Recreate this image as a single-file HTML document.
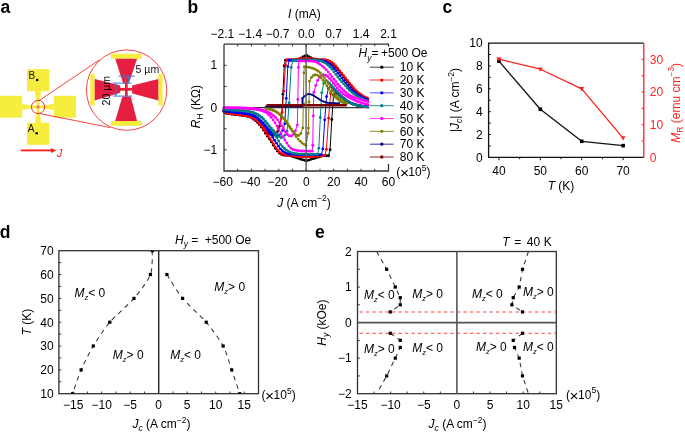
<!DOCTYPE html>
<html><head><meta charset="utf-8"><style>
html,body{margin:0;padding:0;background:#fff;overflow:hidden;}
svg{display:block;will-change:transform;}
text{font-family:"Liberation Sans",sans-serif;}
</style></head><body>
<svg width="685" height="432" viewBox="0 0 685 432">
<defs><clipPath id="clipd"><rect x="58.9" y="250.7" width="199.6" height="143.0"/></clipPath><clipPath id="clipe"><rect x="357.5" y="251.5" width="198.79999999999995" height="142.2"/></clipPath><clipPath id="clipb"><rect x="222.0" y="44.2" width="166.5" height="126.8"/></clipPath></defs>
<rect width="685" height="432" fill="#fff"/>
<text x="0.5" y="12.8" font-size="17.5" font-weight="bold" fill="#000">a</text>
<rect x="27" y="69.2" width="22.2" height="22" fill="#f7ed3e"/>
<rect x="27" y="122.8" width="22.2" height="22" fill="#f7ed3e"/>
<rect x="0" y="95.8" width="22.2" height="21.8" fill="#f7ed3e"/>
<rect x="53.9" y="95.8" width="22.1" height="21.8" fill="#f7ed3e"/>
<polygon points="34.7,91.2 41.3,91.2 39.6,101.5 36.6,101.5" fill="#f7ed3e"/>
<polygon points="35.1,122.8 41.3,122.8 39.6,112.5 36.6,112.5" fill="#f7ed3e"/>
<polygon points="22.2,103.8 22.2,110.1 32,108.5 32,105.4" fill="#f7ed3e"/>
<polygon points="53.9,103.8 53.9,110.1 44,108.5 44,105.4" fill="#f7ed3e"/>
<rect x="36.6" y="101" width="3" height="12" fill="#f7ed3e"/>
<rect x="31.8" y="105.4" width="12.4" height="3.1" fill="#f7ed3e"/>
<path d="M36.3 107 H39.8 M38.05 105.2 V108.8" stroke="#e070a0" stroke-width="1.4"/>
<circle cx="38.05" cy="107" r="6.6" fill="none" stroke="#f03030" stroke-width="1"/>
<line x1="39.2" y1="100.5" x2="99.6" y2="59.8" stroke="#f03030" stroke-width="0.9" />
<line x1="39.6" y1="113.5" x2="110.2" y2="127.6" stroke="#f03030" stroke-width="0.9" />
<circle cx="126.6" cy="90.1" r="40.2" fill="#fff" stroke="#f03030" stroke-width="0.9"/>
<rect x="110.9" y="53.8" width="31.1" height="4.9" fill="#f7ed3e"/>
<rect x="110.9" y="121" width="31.1" height="4.8" fill="#f7ed3e"/>
<rect x="90.4" y="73.9" width="4.3" height="31.5" fill="#f7ed3e"/>
<rect x="158.3" y="73.9" width="4.3" height="31.5" fill="#f7ed3e"/>
<polygon points="115.2,58.7 137.1,58.7 128.8,83.4 123.2,83.4" fill="#e61e41"/>
<polygon points="115.2,121 137.1,121 130.8,96.4 122.4,96.4" fill="#e61e41"/>
<polygon points="94.7,79.1 94.7,100.5 120.3,92.8 120.3,85.6" fill="#e61e41"/>
<polygon points="158.3,79.1 158.3,100.5 132.2,93.4 132.2,85.6" fill="#e61e41"/>
<rect x="125" y="83" width="2.7" height="13.6" fill="#e61e41"/>
<rect x="119.6" y="87.9" width="13.2" height="2.8" fill="#e61e41"/>
<g stroke="#3f78d6" stroke-width="1.0" fill="none">
<path d="M118.5 76.2 H134.7 M112.7 83.1 H131.6 M113.3 96.1 H132.3 M115.9 83.6 V95.6 M125.5 76.2 V83 M128.3 76.2 V83"/>
</g>
<path d="M115.9 83.3 l-1.3 2.6 h2.6 z M115.9 95.9 l-1.3 -2.6 h2.6 z M125.5 76.4 l-1.1 2.4 h2.2z M128.3 76.4 l-1.1 2.4 h2.2z" fill="#3f78d6"/>
<text x="135.6" y="72.7" font-size="10.5" text-anchor="start" fill="#111" >5 µm</text>
<text transform="translate(109.8,90.7) rotate(-90)" font-size="10.5" text-anchor="middle" fill="#000">20 µm</text>
<text x="28.6" y="78.8" font-size="10" text-anchor="start" fill="#111" >B</text>
<circle cx="37.2" cy="80" r="1.3" fill="#000"/>
<text x="27.8" y="131.7" font-size="10" text-anchor="start" fill="#111" >A</text>
<circle cx="36.7" cy="133.2" r="1.3" fill="#000"/>
<line x1="20.7" y1="150.4" x2="51.5" y2="150.4" stroke="#ff1a1a" stroke-width="1.8" />
<polygon points="51,147.9 56.3,150.4 51,152.9" fill="#ff1a1a"/>
<text x="56.8" y="156.9" font-size="11" text-anchor="start" fill="#ff1a1a" font-style="italic">J</text>
<text x="187.6" y="12.7" font-size="17.5" font-weight="bold" fill="#000">b</text>
<line x1="224" y1="107.6" x2="369" y2="107.6" stroke="#333" stroke-width="1.2" />
<g clip-path="url(#clipb)">
<polyline points="369.05,99.41 367.1,98.55 365.16,97.62 363.21,96.58 361.27,95.45 359.32,94.16 357.38,92.66 355.43,90.94 353.49,89 351.54,86.75 349.6,84.36 347.65,81.97 345.71,79.51 343.76,77.08 341.82,74.7 339.87,72.34 337.93,69.92 335.98,67.44 334.04,65.36 332.09,63.63 330.15,62.23 328.2,61.33 326.26,60.67 324.31,60.3 322.37,60.16 320.42,60.07 318.48,60.05 316.53,60.05 314.59,59.74 312.64,58.68 310.7,57.62 308.75,56.56 306.81,55.49 304.86,55.95 302.92,57.01 300.97,58.07 299.03,59.13 297.08,60.05 295.14,60.05 293.19,60.05 291.25,60.05 289.3,60.05 287.36,60.05 285.41,60.05 284.26,65.73 282.92,94.16 281.57,116.9 279.59,126.18 277.6,131.59 275.62,134.48 273.63,135.28 271.65,134.85 269.66,133.96 267.68,132.58 265.69,130.71 263.71,128.36 261.72,125.96 259.74,123.85 257.75,121.98 255.77,120.27 253.78,118.86 251.79,117.62 249.81,116.69 247.82,116.18 245.84,115.79 243.85,115.47 241.87,115.2 239.88,114.94 237.9,114.67 235.91,114.39 233.93,114.18 231.94,114 229.96,113.79 227.97,113.49 225.99,113.03 224,111.51" fill="none" stroke="#000000" stroke-width="1.0" stroke-linejoin="round"/>
<circle cx="369.05" cy="99.41" r="1.42" fill="#000000"/>
<circle cx="367.1" cy="98.55" r="1.42" fill="#000000"/>
<circle cx="365.16" cy="97.62" r="1.42" fill="#000000"/>
<circle cx="363.21" cy="96.58" r="1.42" fill="#000000"/>
<circle cx="361.27" cy="95.45" r="1.42" fill="#000000"/>
<circle cx="359.32" cy="94.16" r="1.42" fill="#000000"/>
<circle cx="357.38" cy="92.66" r="1.42" fill="#000000"/>
<circle cx="355.43" cy="90.94" r="1.42" fill="#000000"/>
<circle cx="353.49" cy="89" r="1.42" fill="#000000"/>
<circle cx="351.54" cy="86.75" r="1.42" fill="#000000"/>
<circle cx="349.6" cy="84.36" r="1.42" fill="#000000"/>
<circle cx="347.65" cy="81.97" r="1.42" fill="#000000"/>
<circle cx="345.71" cy="79.51" r="1.42" fill="#000000"/>
<circle cx="343.76" cy="77.08" r="1.42" fill="#000000"/>
<circle cx="341.82" cy="74.7" r="1.42" fill="#000000"/>
<circle cx="339.87" cy="72.34" r="1.42" fill="#000000"/>
<circle cx="337.93" cy="69.92" r="1.42" fill="#000000"/>
<circle cx="335.98" cy="67.44" r="1.42" fill="#000000"/>
<circle cx="334.04" cy="65.36" r="1.42" fill="#000000"/>
<circle cx="332.09" cy="63.63" r="1.42" fill="#000000"/>
<circle cx="330.15" cy="62.23" r="1.42" fill="#000000"/>
<circle cx="328.2" cy="61.33" r="1.42" fill="#000000"/>
<circle cx="326.26" cy="60.67" r="1.42" fill="#000000"/>
<circle cx="324.31" cy="60.3" r="1.42" fill="#000000"/>
<circle cx="322.37" cy="60.16" r="1.42" fill="#000000"/>
<circle cx="320.42" cy="60.07" r="1.42" fill="#000000"/>
<circle cx="318.48" cy="60.05" r="1.42" fill="#000000"/>
<circle cx="316.53" cy="60.05" r="1.42" fill="#000000"/>
<circle cx="314.59" cy="59.74" r="1.42" fill="#000000"/>
<circle cx="312.64" cy="58.68" r="1.42" fill="#000000"/>
<circle cx="310.7" cy="57.62" r="1.42" fill="#000000"/>
<circle cx="308.75" cy="56.56" r="1.42" fill="#000000"/>
<circle cx="306.81" cy="55.49" r="1.42" fill="#000000"/>
<circle cx="304.86" cy="55.95" r="1.42" fill="#000000"/>
<circle cx="302.92" cy="57.01" r="1.42" fill="#000000"/>
<circle cx="300.97" cy="58.07" r="1.42" fill="#000000"/>
<circle cx="299.03" cy="59.13" r="1.42" fill="#000000"/>
<circle cx="297.08" cy="60.05" r="1.42" fill="#000000"/>
<circle cx="295.14" cy="60.05" r="1.42" fill="#000000"/>
<circle cx="293.19" cy="60.05" r="1.42" fill="#000000"/>
<circle cx="291.25" cy="60.05" r="1.42" fill="#000000"/>
<circle cx="289.3" cy="60.05" r="1.42" fill="#000000"/>
<circle cx="287.36" cy="60.05" r="1.42" fill="#000000"/>
<circle cx="285.41" cy="60.05" r="1.42" fill="#000000"/>
<circle cx="284.26" cy="65.73" r="1.42" fill="#000000"/>
<circle cx="282.92" cy="94.16" r="1.42" fill="#000000"/>
<circle cx="281.57" cy="116.9" r="1.42" fill="#000000"/>
<circle cx="279.59" cy="126.18" r="1.42" fill="#000000"/>
<circle cx="277.6" cy="131.59" r="1.42" fill="#000000"/>
<circle cx="275.62" cy="134.48" r="1.42" fill="#000000"/>
<circle cx="273.63" cy="135.28" r="1.42" fill="#000000"/>
<circle cx="271.65" cy="134.85" r="1.42" fill="#000000"/>
<circle cx="269.66" cy="133.96" r="1.42" fill="#000000"/>
<circle cx="267.68" cy="132.58" r="1.42" fill="#000000"/>
<circle cx="265.69" cy="130.71" r="1.42" fill="#000000"/>
<circle cx="263.71" cy="128.36" r="1.42" fill="#000000"/>
<circle cx="261.72" cy="125.96" r="1.42" fill="#000000"/>
<circle cx="259.74" cy="123.85" r="1.42" fill="#000000"/>
<circle cx="257.75" cy="121.98" r="1.42" fill="#000000"/>
<circle cx="255.77" cy="120.27" r="1.42" fill="#000000"/>
<circle cx="253.78" cy="118.86" r="1.42" fill="#000000"/>
<circle cx="251.79" cy="117.62" r="1.42" fill="#000000"/>
<circle cx="249.81" cy="116.69" r="1.42" fill="#000000"/>
<circle cx="247.82" cy="116.18" r="1.42" fill="#000000"/>
<circle cx="245.84" cy="115.79" r="1.42" fill="#000000"/>
<circle cx="243.85" cy="115.47" r="1.42" fill="#000000"/>
<circle cx="241.87" cy="115.2" r="1.42" fill="#000000"/>
<circle cx="239.88" cy="114.94" r="1.42" fill="#000000"/>
<circle cx="237.9" cy="114.67" r="1.42" fill="#000000"/>
<circle cx="235.91" cy="114.39" r="1.42" fill="#000000"/>
<circle cx="233.93" cy="114.18" r="1.42" fill="#000000"/>
<circle cx="231.94" cy="114" r="1.42" fill="#000000"/>
<circle cx="229.96" cy="113.79" r="1.42" fill="#000000"/>
<circle cx="227.97" cy="113.49" r="1.42" fill="#000000"/>
<circle cx="225.99" cy="113.03" r="1.42" fill="#000000"/>
<circle cx="224" cy="111.51" r="1.42" fill="#000000"/>
<polyline points="224,111.51 225.97,113.04 227.95,113.49 229.92,113.8 231.89,114.01 233.87,114.19 235.84,114.4 237.81,114.69 239.79,114.97 241.76,115.25 243.73,115.54 245.71,115.88 247.68,116.31 249.66,116.85 251.63,117.82 253.6,119.15 255.58,120.67 257.55,122.56 259.52,124.69 261.5,127.15 263.47,130.06 265.44,133.18 267.42,136.14 269.39,139 271.36,141.92 273.34,145.14 275.31,148.32 277.28,150.91 279.26,153.1 281.23,154.27 283.2,154.99 285.18,155.31 287.15,155.41 289.12,155.49 291.1,155.96 293.07,156.63 295.05,157.29 297.02,157.94 298.99,158.58 300.97,159.21 302.94,159.83 304.91,160.44 306.89,160.66 308.86,160.05 310.83,159.44 312.81,158.83 314.78,158.23 316.75,157.62 318.73,157.01 320.7,156.4 322.67,155.79 324.65,155.78 326.62,155.78 328.59,155.78 330.08,149.74 331.8,119.52 333.53,95.34 335.49,93.08 337.46,93.56 339.42,94.99 341.38,96.65 343.35,98.29 345.31,99.77 347.27,101.08 349.24,102.21 351.2,103.17 353.16,103.97 355.13,104.64 357.09,105.19 359.05,105.65 361.01,106.02 362.98,106.32 364.94,106.57 366.9,106.77 368.87,106.93" fill="none" stroke="#000000" stroke-width="1.0" stroke-linejoin="round"/>
<circle cx="224" cy="111.51" r="1.42" fill="#000000"/>
<circle cx="225.97" cy="113.04" r="1.42" fill="#000000"/>
<circle cx="227.95" cy="113.49" r="1.42" fill="#000000"/>
<circle cx="229.92" cy="113.8" r="1.42" fill="#000000"/>
<circle cx="231.89" cy="114.01" r="1.42" fill="#000000"/>
<circle cx="233.87" cy="114.19" r="1.42" fill="#000000"/>
<circle cx="235.84" cy="114.4" r="1.42" fill="#000000"/>
<circle cx="237.81" cy="114.69" r="1.42" fill="#000000"/>
<circle cx="239.79" cy="114.97" r="1.42" fill="#000000"/>
<circle cx="241.76" cy="115.25" r="1.42" fill="#000000"/>
<circle cx="243.73" cy="115.54" r="1.42" fill="#000000"/>
<circle cx="245.71" cy="115.88" r="1.42" fill="#000000"/>
<circle cx="247.68" cy="116.31" r="1.42" fill="#000000"/>
<circle cx="249.66" cy="116.85" r="1.42" fill="#000000"/>
<circle cx="251.63" cy="117.82" r="1.42" fill="#000000"/>
<circle cx="253.6" cy="119.15" r="1.42" fill="#000000"/>
<circle cx="255.58" cy="120.67" r="1.42" fill="#000000"/>
<circle cx="257.55" cy="122.56" r="1.42" fill="#000000"/>
<circle cx="259.52" cy="124.69" r="1.42" fill="#000000"/>
<circle cx="261.5" cy="127.15" r="1.42" fill="#000000"/>
<circle cx="263.47" cy="130.06" r="1.42" fill="#000000"/>
<circle cx="265.44" cy="133.18" r="1.42" fill="#000000"/>
<circle cx="267.42" cy="136.14" r="1.42" fill="#000000"/>
<circle cx="269.39" cy="139" r="1.42" fill="#000000"/>
<circle cx="271.36" cy="141.92" r="1.42" fill="#000000"/>
<circle cx="273.34" cy="145.14" r="1.42" fill="#000000"/>
<circle cx="275.31" cy="148.32" r="1.42" fill="#000000"/>
<circle cx="277.28" cy="150.91" r="1.42" fill="#000000"/>
<circle cx="279.26" cy="153.1" r="1.42" fill="#000000"/>
<circle cx="281.23" cy="154.27" r="1.42" fill="#000000"/>
<circle cx="283.2" cy="154.99" r="1.42" fill="#000000"/>
<circle cx="285.18" cy="155.31" r="1.42" fill="#000000"/>
<circle cx="287.15" cy="155.41" r="1.42" fill="#000000"/>
<circle cx="289.12" cy="155.49" r="1.42" fill="#000000"/>
<circle cx="291.1" cy="155.96" r="1.42" fill="#000000"/>
<circle cx="293.07" cy="156.63" r="1.42" fill="#000000"/>
<circle cx="295.05" cy="157.29" r="1.42" fill="#000000"/>
<circle cx="297.02" cy="157.94" r="1.42" fill="#000000"/>
<circle cx="298.99" cy="158.58" r="1.42" fill="#000000"/>
<circle cx="300.97" cy="159.21" r="1.42" fill="#000000"/>
<circle cx="302.94" cy="159.83" r="1.42" fill="#000000"/>
<circle cx="304.91" cy="160.44" r="1.42" fill="#000000"/>
<circle cx="306.89" cy="160.66" r="1.42" fill="#000000"/>
<circle cx="308.86" cy="160.05" r="1.42" fill="#000000"/>
<circle cx="310.83" cy="159.44" r="1.42" fill="#000000"/>
<circle cx="312.81" cy="158.83" r="1.42" fill="#000000"/>
<circle cx="314.78" cy="158.23" r="1.42" fill="#000000"/>
<circle cx="316.75" cy="157.62" r="1.42" fill="#000000"/>
<circle cx="318.73" cy="157.01" r="1.42" fill="#000000"/>
<circle cx="320.7" cy="156.4" r="1.42" fill="#000000"/>
<circle cx="322.67" cy="155.79" r="1.42" fill="#000000"/>
<circle cx="324.65" cy="155.78" r="1.42" fill="#000000"/>
<circle cx="326.62" cy="155.78" r="1.42" fill="#000000"/>
<circle cx="328.59" cy="155.78" r="1.42" fill="#000000"/>
<circle cx="330.08" cy="149.74" r="1.42" fill="#000000"/>
<circle cx="331.8" cy="119.52" r="1.42" fill="#000000"/>
<circle cx="333.53" cy="95.34" r="1.42" fill="#000000"/>
<circle cx="335.49" cy="93.08" r="1.42" fill="#000000"/>
<circle cx="337.46" cy="93.56" r="1.42" fill="#000000"/>
<circle cx="339.42" cy="94.99" r="1.42" fill="#000000"/>
<circle cx="341.38" cy="96.65" r="1.42" fill="#000000"/>
<circle cx="343.35" cy="98.29" r="1.42" fill="#000000"/>
<circle cx="345.31" cy="99.77" r="1.42" fill="#000000"/>
<circle cx="347.27" cy="101.08" r="1.42" fill="#000000"/>
<circle cx="349.24" cy="102.21" r="1.42" fill="#000000"/>
<circle cx="351.2" cy="103.17" r="1.42" fill="#000000"/>
<circle cx="353.16" cy="103.97" r="1.42" fill="#000000"/>
<circle cx="355.13" cy="104.64" r="1.42" fill="#000000"/>
<circle cx="357.09" cy="105.19" r="1.42" fill="#000000"/>
<circle cx="359.05" cy="105.65" r="1.42" fill="#000000"/>
<circle cx="361.01" cy="106.02" r="1.42" fill="#000000"/>
<circle cx="362.98" cy="106.32" r="1.42" fill="#000000"/>
<circle cx="364.94" cy="106.57" r="1.42" fill="#000000"/>
<circle cx="366.9" cy="106.77" r="1.42" fill="#000000"/>
<circle cx="368.87" cy="106.93" r="1.42" fill="#000000"/>
<polyline points="368.97,98.93 367.01,98.04 365.06,97.05 363.11,95.95 361.15,94.73 359.2,93.34 357.25,91.7 355.29,89.85 353.34,87.73 351.38,85.35 349.43,82.94 347.48,80.47 345.52,77.98 343.57,75.55 341.62,73.15 339.66,70.76 337.71,68.23 335.76,65.87 333.8,64.01 331.85,62.4 329.9,61.28 327.94,60.52 325.99,60 324.04,59.79 322.08,59.68 320.13,59.63 318.18,59.44 316.22,59.22 314.27,59.01 312.32,58.8 310.36,58.59 308.41,58.38 306.46,58.17 304.5,58.34 302.55,58.55 300.6,58.76 298.64,58.97 296.69,59.18 294.74,59.39 292.78,59.6 290.83,59.63 288.87,59.63 286.92,59.63 285.48,64.89 283.8,91.2 282.12,112.25 280.19,122.44 278.25,128.62 276.31,132.16 274.37,133.52 272.44,133.54 270.5,133 268.56,131.93 266.62,130.34 264.69,128.22 262.75,125.96 260.81,123.93 258.87,122.12 256.94,120.47 255,119.04 253.06,117.82 251.12,116.81 249.19,116.24 247.25,115.83 245.31,115.51 243.37,115.23 241.44,114.98 239.5,114.73 237.56,114.45 235.62,114.22 233.69,114.04 231.75,113.86 229.81,113.62 227.87,113.28 225.94,112.73 224,110.7" fill="none" stroke="#ff0000" stroke-width="1.0" stroke-linejoin="round"/>
<circle cx="368.97" cy="98.93" r="1.42" fill="#ff0000"/>
<circle cx="367.01" cy="98.04" r="1.42" fill="#ff0000"/>
<circle cx="365.06" cy="97.05" r="1.42" fill="#ff0000"/>
<circle cx="363.11" cy="95.95" r="1.42" fill="#ff0000"/>
<circle cx="361.15" cy="94.73" r="1.42" fill="#ff0000"/>
<circle cx="359.2" cy="93.34" r="1.42" fill="#ff0000"/>
<circle cx="357.25" cy="91.7" r="1.42" fill="#ff0000"/>
<circle cx="355.29" cy="89.85" r="1.42" fill="#ff0000"/>
<circle cx="353.34" cy="87.73" r="1.42" fill="#ff0000"/>
<circle cx="351.38" cy="85.35" r="1.42" fill="#ff0000"/>
<circle cx="349.43" cy="82.94" r="1.42" fill="#ff0000"/>
<circle cx="347.48" cy="80.47" r="1.42" fill="#ff0000"/>
<circle cx="345.52" cy="77.98" r="1.42" fill="#ff0000"/>
<circle cx="343.57" cy="75.55" r="1.42" fill="#ff0000"/>
<circle cx="341.62" cy="73.15" r="1.42" fill="#ff0000"/>
<circle cx="339.66" cy="70.76" r="1.42" fill="#ff0000"/>
<circle cx="337.71" cy="68.23" r="1.42" fill="#ff0000"/>
<circle cx="335.76" cy="65.87" r="1.42" fill="#ff0000"/>
<circle cx="333.8" cy="64.01" r="1.42" fill="#ff0000"/>
<circle cx="331.85" cy="62.4" r="1.42" fill="#ff0000"/>
<circle cx="329.9" cy="61.28" r="1.42" fill="#ff0000"/>
<circle cx="327.94" cy="60.52" r="1.42" fill="#ff0000"/>
<circle cx="325.99" cy="60" r="1.42" fill="#ff0000"/>
<circle cx="324.04" cy="59.79" r="1.42" fill="#ff0000"/>
<circle cx="322.08" cy="59.68" r="1.42" fill="#ff0000"/>
<circle cx="320.13" cy="59.63" r="1.42" fill="#ff0000"/>
<circle cx="318.18" cy="59.44" r="1.42" fill="#ff0000"/>
<circle cx="316.22" cy="59.22" r="1.42" fill="#ff0000"/>
<circle cx="314.27" cy="59.01" r="1.42" fill="#ff0000"/>
<circle cx="312.32" cy="58.8" r="1.42" fill="#ff0000"/>
<circle cx="310.36" cy="58.59" r="1.42" fill="#ff0000"/>
<circle cx="308.41" cy="58.38" r="1.42" fill="#ff0000"/>
<circle cx="306.46" cy="58.17" r="1.42" fill="#ff0000"/>
<circle cx="304.5" cy="58.34" r="1.42" fill="#ff0000"/>
<circle cx="302.55" cy="58.55" r="1.42" fill="#ff0000"/>
<circle cx="300.6" cy="58.76" r="1.42" fill="#ff0000"/>
<circle cx="298.64" cy="58.97" r="1.42" fill="#ff0000"/>
<circle cx="296.69" cy="59.18" r="1.42" fill="#ff0000"/>
<circle cx="294.74" cy="59.39" r="1.42" fill="#ff0000"/>
<circle cx="292.78" cy="59.6" r="1.42" fill="#ff0000"/>
<circle cx="290.83" cy="59.63" r="1.42" fill="#ff0000"/>
<circle cx="288.87" cy="59.63" r="1.42" fill="#ff0000"/>
<circle cx="286.92" cy="59.63" r="1.42" fill="#ff0000"/>
<circle cx="285.48" cy="64.89" r="1.42" fill="#ff0000"/>
<circle cx="283.8" cy="91.2" r="1.42" fill="#ff0000"/>
<circle cx="282.12" cy="112.25" r="1.42" fill="#ff0000"/>
<circle cx="280.19" cy="122.44" r="1.42" fill="#ff0000"/>
<circle cx="278.25" cy="128.62" r="1.42" fill="#ff0000"/>
<circle cx="276.31" cy="132.16" r="1.42" fill="#ff0000"/>
<circle cx="274.37" cy="133.52" r="1.42" fill="#ff0000"/>
<circle cx="272.44" cy="133.54" r="1.42" fill="#ff0000"/>
<circle cx="270.5" cy="133" r="1.42" fill="#ff0000"/>
<circle cx="268.56" cy="131.93" r="1.42" fill="#ff0000"/>
<circle cx="266.62" cy="130.34" r="1.42" fill="#ff0000"/>
<circle cx="264.69" cy="128.22" r="1.42" fill="#ff0000"/>
<circle cx="262.75" cy="125.96" r="1.42" fill="#ff0000"/>
<circle cx="260.81" cy="123.93" r="1.42" fill="#ff0000"/>
<circle cx="258.87" cy="122.12" r="1.42" fill="#ff0000"/>
<circle cx="256.94" cy="120.47" r="1.42" fill="#ff0000"/>
<circle cx="255" cy="119.04" r="1.42" fill="#ff0000"/>
<circle cx="253.06" cy="117.82" r="1.42" fill="#ff0000"/>
<circle cx="251.12" cy="116.81" r="1.42" fill="#ff0000"/>
<circle cx="249.19" cy="116.24" r="1.42" fill="#ff0000"/>
<circle cx="247.25" cy="115.83" r="1.42" fill="#ff0000"/>
<circle cx="245.31" cy="115.51" r="1.42" fill="#ff0000"/>
<circle cx="243.37" cy="115.23" r="1.42" fill="#ff0000"/>
<circle cx="241.44" cy="114.98" r="1.42" fill="#ff0000"/>
<circle cx="239.5" cy="114.73" r="1.42" fill="#ff0000"/>
<circle cx="237.56" cy="114.45" r="1.42" fill="#ff0000"/>
<circle cx="235.62" cy="114.22" r="1.42" fill="#ff0000"/>
<circle cx="233.69" cy="114.04" r="1.42" fill="#ff0000"/>
<circle cx="231.75" cy="113.86" r="1.42" fill="#ff0000"/>
<circle cx="229.81" cy="113.62" r="1.42" fill="#ff0000"/>
<circle cx="227.87" cy="113.28" r="1.42" fill="#ff0000"/>
<circle cx="225.94" cy="112.73" r="1.42" fill="#ff0000"/>
<circle cx="224" cy="110.7" r="1.42" fill="#ff0000"/>
<polyline points="224,110.7 225.97,112.76 227.95,113.3 229.92,113.65 231.89,113.89 233.86,114.07 235.84,114.26 237.81,114.52 239.78,114.81 241.76,115.08 243.73,115.36 245.7,115.68 247.68,116.07 249.65,116.56 251.62,117.33 253.59,118.56 255.57,119.98 257.54,121.74 259.51,123.76 261.49,126.08 263.46,128.8 265.43,131.87 267.4,134.88 269.38,137.72 271.35,140.58 273.32,143.65 275.3,146.89 277.27,149.66 279.24,152.01 281.21,153.54 283.19,154.36 285.16,154.84 287.13,155.07 289.11,155.32 291.08,155.56 293.05,155.79 295.03,156 297,156.21 298.97,156.4 300.94,156.59 302.92,156.77 304.89,156.94 306.86,157 308.84,156.84 310.81,156.68 312.78,156.51 314.75,156.35 316.73,156.19 318.7,156.03 320.67,155.87 322.65,155.7 324.62,155.54 326.43,149.31 328.54,118.15 330.65,93.23 332.58,90.14 334.51,90.37 336.44,91.82 338.36,93.65 340.29,95.52 342.22,97.29 344.15,98.88 346.08,100.3 348.01,101.52 349.93,102.57 351.86,103.46 353.79,104.2 355.72,104.82 357.65,105.33 359.58,105.76 361.5,106.1 363.43,106.39 365.36,106.62 367.29,106.8" fill="none" stroke="#ff0000" stroke-width="1.0" stroke-linejoin="round"/>
<circle cx="224" cy="110.7" r="1.42" fill="#ff0000"/>
<circle cx="225.97" cy="112.76" r="1.42" fill="#ff0000"/>
<circle cx="227.95" cy="113.3" r="1.42" fill="#ff0000"/>
<circle cx="229.92" cy="113.65" r="1.42" fill="#ff0000"/>
<circle cx="231.89" cy="113.89" r="1.42" fill="#ff0000"/>
<circle cx="233.86" cy="114.07" r="1.42" fill="#ff0000"/>
<circle cx="235.84" cy="114.26" r="1.42" fill="#ff0000"/>
<circle cx="237.81" cy="114.52" r="1.42" fill="#ff0000"/>
<circle cx="239.78" cy="114.81" r="1.42" fill="#ff0000"/>
<circle cx="241.76" cy="115.08" r="1.42" fill="#ff0000"/>
<circle cx="243.73" cy="115.36" r="1.42" fill="#ff0000"/>
<circle cx="245.7" cy="115.68" r="1.42" fill="#ff0000"/>
<circle cx="247.68" cy="116.07" r="1.42" fill="#ff0000"/>
<circle cx="249.65" cy="116.56" r="1.42" fill="#ff0000"/>
<circle cx="251.62" cy="117.33" r="1.42" fill="#ff0000"/>
<circle cx="253.59" cy="118.56" r="1.42" fill="#ff0000"/>
<circle cx="255.57" cy="119.98" r="1.42" fill="#ff0000"/>
<circle cx="257.54" cy="121.74" r="1.42" fill="#ff0000"/>
<circle cx="259.51" cy="123.76" r="1.42" fill="#ff0000"/>
<circle cx="261.49" cy="126.08" r="1.42" fill="#ff0000"/>
<circle cx="263.46" cy="128.8" r="1.42" fill="#ff0000"/>
<circle cx="265.43" cy="131.87" r="1.42" fill="#ff0000"/>
<circle cx="267.4" cy="134.88" r="1.42" fill="#ff0000"/>
<circle cx="269.38" cy="137.72" r="1.42" fill="#ff0000"/>
<circle cx="271.35" cy="140.58" r="1.42" fill="#ff0000"/>
<circle cx="273.32" cy="143.65" r="1.42" fill="#ff0000"/>
<circle cx="275.3" cy="146.89" r="1.42" fill="#ff0000"/>
<circle cx="277.27" cy="149.66" r="1.42" fill="#ff0000"/>
<circle cx="279.24" cy="152.01" r="1.42" fill="#ff0000"/>
<circle cx="281.21" cy="153.54" r="1.42" fill="#ff0000"/>
<circle cx="283.19" cy="154.36" r="1.42" fill="#ff0000"/>
<circle cx="285.16" cy="154.84" r="1.42" fill="#ff0000"/>
<circle cx="287.13" cy="155.07" r="1.42" fill="#ff0000"/>
<circle cx="289.11" cy="155.32" r="1.42" fill="#ff0000"/>
<circle cx="291.08" cy="155.56" r="1.42" fill="#ff0000"/>
<circle cx="293.05" cy="155.79" r="1.42" fill="#ff0000"/>
<circle cx="295.03" cy="156" r="1.42" fill="#ff0000"/>
<circle cx="297" cy="156.21" r="1.42" fill="#ff0000"/>
<circle cx="298.97" cy="156.4" r="1.42" fill="#ff0000"/>
<circle cx="300.94" cy="156.59" r="1.42" fill="#ff0000"/>
<circle cx="302.92" cy="156.77" r="1.42" fill="#ff0000"/>
<circle cx="304.89" cy="156.94" r="1.42" fill="#ff0000"/>
<circle cx="306.86" cy="157" r="1.42" fill="#ff0000"/>
<circle cx="308.84" cy="156.84" r="1.42" fill="#ff0000"/>
<circle cx="310.81" cy="156.68" r="1.42" fill="#ff0000"/>
<circle cx="312.78" cy="156.51" r="1.42" fill="#ff0000"/>
<circle cx="314.75" cy="156.35" r="1.42" fill="#ff0000"/>
<circle cx="316.73" cy="156.19" r="1.42" fill="#ff0000"/>
<circle cx="318.7" cy="156.03" r="1.42" fill="#ff0000"/>
<circle cx="320.67" cy="155.87" r="1.42" fill="#ff0000"/>
<circle cx="322.65" cy="155.7" r="1.42" fill="#ff0000"/>
<circle cx="324.62" cy="155.54" r="1.42" fill="#ff0000"/>
<circle cx="326.43" cy="149.31" r="1.42" fill="#ff0000"/>
<circle cx="328.54" cy="118.15" r="1.42" fill="#ff0000"/>
<circle cx="330.65" cy="93.23" r="1.42" fill="#ff0000"/>
<circle cx="332.58" cy="90.14" r="1.42" fill="#ff0000"/>
<circle cx="334.51" cy="90.37" r="1.42" fill="#ff0000"/>
<circle cx="336.44" cy="91.82" r="1.42" fill="#ff0000"/>
<circle cx="338.36" cy="93.65" r="1.42" fill="#ff0000"/>
<circle cx="340.29" cy="95.52" r="1.42" fill="#ff0000"/>
<circle cx="342.22" cy="97.29" r="1.42" fill="#ff0000"/>
<circle cx="344.15" cy="98.88" r="1.42" fill="#ff0000"/>
<circle cx="346.08" cy="100.3" r="1.42" fill="#ff0000"/>
<circle cx="348.01" cy="101.52" r="1.42" fill="#ff0000"/>
<circle cx="349.93" cy="102.57" r="1.42" fill="#ff0000"/>
<circle cx="351.86" cy="103.46" r="1.42" fill="#ff0000"/>
<circle cx="353.79" cy="104.2" r="1.42" fill="#ff0000"/>
<circle cx="355.72" cy="104.82" r="1.42" fill="#ff0000"/>
<circle cx="357.65" cy="105.33" r="1.42" fill="#ff0000"/>
<circle cx="359.58" cy="105.76" r="1.42" fill="#ff0000"/>
<circle cx="361.5" cy="106.1" r="1.42" fill="#ff0000"/>
<circle cx="363.43" cy="106.39" r="1.42" fill="#ff0000"/>
<circle cx="365.36" cy="106.62" r="1.42" fill="#ff0000"/>
<circle cx="367.29" cy="106.8" r="1.42" fill="#ff0000"/>
<polyline points="369.01,100.25 367.06,99.49 365.12,98.63 363.17,97.71 361.22,96.7 359.27,95.58 357.32,94.32 355.37,92.93 353.42,91.38 351.47,89.65 349.53,87.71 347.58,85.44 345.63,83 343.68,80.57 341.73,78.11 339.78,75.64 337.83,73.15 335.88,70.71 333.94,68.48 331.99,66.36 330.04,64.58 328.09,63.1 326.14,61.89 324.19,61.21 322.24,60.71 320.29,60.37 318.35,60.26 316.4,60.26 314.45,60.26 312.5,60.26 310.55,60.26 308.6,60.26 306.65,60.26 304.7,60.26 302.76,60.26 300.81,60.26 298.86,60.26 296.91,60.26 294.96,60.26 293.01,60.26 291.06,60.26 289.11,60.26 287.8,66.6 286.26,98.3 284.73,123.66 282.77,130.16 280.81,134.11 278.85,135.59 276.89,135.59 274.93,134.89 272.97,133.56 271.02,131.79 269.06,129.67 267.1,127.47 265.14,125.28 263.18,123.15 261.22,121.26 259.26,119.47 257.3,117.84 255.34,116.52 253.38,115.53 251.43,114.73 249.47,114.2 247.51,113.81 245.55,113.48 243.59,113.21 241.63,112.96 239.67,112.72 237.71,112.52 235.75,112.37 233.79,112.23 231.84,112.09 229.88,111.91 227.92,111.66 225.96,111.31 224,110.43" fill="none" stroke="#0000ff" stroke-width="1.0" stroke-linejoin="round"/>
<circle cx="369.01" cy="100.25" r="1.42" fill="#0000ff"/>
<circle cx="367.06" cy="99.49" r="1.42" fill="#0000ff"/>
<circle cx="365.12" cy="98.63" r="1.42" fill="#0000ff"/>
<circle cx="363.17" cy="97.71" r="1.42" fill="#0000ff"/>
<circle cx="361.22" cy="96.7" r="1.42" fill="#0000ff"/>
<circle cx="359.27" cy="95.58" r="1.42" fill="#0000ff"/>
<circle cx="357.32" cy="94.32" r="1.42" fill="#0000ff"/>
<circle cx="355.37" cy="92.93" r="1.42" fill="#0000ff"/>
<circle cx="353.42" cy="91.38" r="1.42" fill="#0000ff"/>
<circle cx="351.47" cy="89.65" r="1.42" fill="#0000ff"/>
<circle cx="349.53" cy="87.71" r="1.42" fill="#0000ff"/>
<circle cx="347.58" cy="85.44" r="1.42" fill="#0000ff"/>
<circle cx="345.63" cy="83" r="1.42" fill="#0000ff"/>
<circle cx="343.68" cy="80.57" r="1.42" fill="#0000ff"/>
<circle cx="341.73" cy="78.11" r="1.42" fill="#0000ff"/>
<circle cx="339.78" cy="75.64" r="1.42" fill="#0000ff"/>
<circle cx="337.83" cy="73.15" r="1.42" fill="#0000ff"/>
<circle cx="335.88" cy="70.71" r="1.42" fill="#0000ff"/>
<circle cx="333.94" cy="68.48" r="1.42" fill="#0000ff"/>
<circle cx="331.99" cy="66.36" r="1.42" fill="#0000ff"/>
<circle cx="330.04" cy="64.58" r="1.42" fill="#0000ff"/>
<circle cx="328.09" cy="63.1" r="1.42" fill="#0000ff"/>
<circle cx="326.14" cy="61.89" r="1.42" fill="#0000ff"/>
<circle cx="324.19" cy="61.21" r="1.42" fill="#0000ff"/>
<circle cx="322.24" cy="60.71" r="1.42" fill="#0000ff"/>
<circle cx="320.29" cy="60.37" r="1.42" fill="#0000ff"/>
<circle cx="318.35" cy="60.26" r="1.42" fill="#0000ff"/>
<circle cx="316.4" cy="60.26" r="1.42" fill="#0000ff"/>
<circle cx="314.45" cy="60.26" r="1.42" fill="#0000ff"/>
<circle cx="312.5" cy="60.26" r="1.42" fill="#0000ff"/>
<circle cx="310.55" cy="60.26" r="1.42" fill="#0000ff"/>
<circle cx="308.6" cy="60.26" r="1.42" fill="#0000ff"/>
<circle cx="306.65" cy="60.26" r="1.42" fill="#0000ff"/>
<circle cx="304.7" cy="60.26" r="1.42" fill="#0000ff"/>
<circle cx="302.76" cy="60.26" r="1.42" fill="#0000ff"/>
<circle cx="300.81" cy="60.26" r="1.42" fill="#0000ff"/>
<circle cx="298.86" cy="60.26" r="1.42" fill="#0000ff"/>
<circle cx="296.91" cy="60.26" r="1.42" fill="#0000ff"/>
<circle cx="294.96" cy="60.26" r="1.42" fill="#0000ff"/>
<circle cx="293.01" cy="60.26" r="1.42" fill="#0000ff"/>
<circle cx="291.06" cy="60.26" r="1.42" fill="#0000ff"/>
<circle cx="289.11" cy="60.26" r="1.42" fill="#0000ff"/>
<circle cx="287.8" cy="66.6" r="1.42" fill="#0000ff"/>
<circle cx="286.26" cy="98.3" r="1.42" fill="#0000ff"/>
<circle cx="284.73" cy="123.66" r="1.42" fill="#0000ff"/>
<circle cx="282.77" cy="130.16" r="1.42" fill="#0000ff"/>
<circle cx="280.81" cy="134.11" r="1.42" fill="#0000ff"/>
<circle cx="278.85" cy="135.59" r="1.42" fill="#0000ff"/>
<circle cx="276.89" cy="135.59" r="1.42" fill="#0000ff"/>
<circle cx="274.93" cy="134.89" r="1.42" fill="#0000ff"/>
<circle cx="272.97" cy="133.56" r="1.42" fill="#0000ff"/>
<circle cx="271.02" cy="131.79" r="1.42" fill="#0000ff"/>
<circle cx="269.06" cy="129.67" r="1.42" fill="#0000ff"/>
<circle cx="267.1" cy="127.47" r="1.42" fill="#0000ff"/>
<circle cx="265.14" cy="125.28" r="1.42" fill="#0000ff"/>
<circle cx="263.18" cy="123.15" r="1.42" fill="#0000ff"/>
<circle cx="261.22" cy="121.26" r="1.42" fill="#0000ff"/>
<circle cx="259.26" cy="119.47" r="1.42" fill="#0000ff"/>
<circle cx="257.3" cy="117.84" r="1.42" fill="#0000ff"/>
<circle cx="255.34" cy="116.52" r="1.42" fill="#0000ff"/>
<circle cx="253.38" cy="115.53" r="1.42" fill="#0000ff"/>
<circle cx="251.43" cy="114.73" r="1.42" fill="#0000ff"/>
<circle cx="249.47" cy="114.2" r="1.42" fill="#0000ff"/>
<circle cx="247.51" cy="113.81" r="1.42" fill="#0000ff"/>
<circle cx="245.55" cy="113.48" r="1.42" fill="#0000ff"/>
<circle cx="243.59" cy="113.21" r="1.42" fill="#0000ff"/>
<circle cx="241.63" cy="112.96" r="1.42" fill="#0000ff"/>
<circle cx="239.67" cy="112.72" r="1.42" fill="#0000ff"/>
<circle cx="237.71" cy="112.52" r="1.42" fill="#0000ff"/>
<circle cx="235.75" cy="112.37" r="1.42" fill="#0000ff"/>
<circle cx="233.79" cy="112.23" r="1.42" fill="#0000ff"/>
<circle cx="231.84" cy="112.09" r="1.42" fill="#0000ff"/>
<circle cx="229.88" cy="111.91" r="1.42" fill="#0000ff"/>
<circle cx="227.92" cy="111.66" r="1.42" fill="#0000ff"/>
<circle cx="225.96" cy="111.31" r="1.42" fill="#0000ff"/>
<circle cx="224" cy="110.43" r="1.42" fill="#0000ff"/>
<polyline points="224,110.43 225.95,111.31 227.89,111.66 229.84,111.91 231.79,112.09 233.73,112.24 235.68,112.37 237.63,112.53 239.57,112.73 241.52,112.97 243.47,113.23 245.41,113.51 247.36,113.85 249.31,114.25 251.25,114.8 253.2,115.62 255.15,116.65 257.09,118.01 259.04,119.72 260.99,121.66 262.93,123.73 264.88,126.14 266.82,128.74 268.77,131.51 270.72,134.45 272.66,137.37 274.61,140.28 276.56,143.17 278.5,146.13 280.45,148.92 282.4,150.77 284.34,152.17 286.29,153.08 288.24,153.74 290.18,154.05 292.13,154.21 294.08,154.34 296.02,154.46 297.97,154.55 299.92,154.63 301.86,154.68 303.81,154.71 305.76,154.73 307.7,154.73 309.65,154.73 311.6,154.73 313.54,154.73 315.49,154.73 317.44,154.73 319.38,154.73 321.33,154.73 322.89,148.92 324.72,119.86 326.54,96.61 328.47,88.31 330.41,86.56 332.35,87.36 334.28,89.12 336.22,91.18 338.16,93.27 340.09,95.26 342.03,97.09 343.97,98.73 345.9,100.17 347.84,101.42 349.77,102.49 351.71,103.39 353.65,104.15 355.58,104.78 357.52,105.3 359.46,105.73 361.39,106.08 363.33,106.37 365.26,106.61 367.2,106.8 369.14,106.95" fill="none" stroke="#0000ff" stroke-width="1.0" stroke-linejoin="round"/>
<circle cx="224" cy="110.43" r="1.42" fill="#0000ff"/>
<circle cx="225.95" cy="111.31" r="1.42" fill="#0000ff"/>
<circle cx="227.89" cy="111.66" r="1.42" fill="#0000ff"/>
<circle cx="229.84" cy="111.91" r="1.42" fill="#0000ff"/>
<circle cx="231.79" cy="112.09" r="1.42" fill="#0000ff"/>
<circle cx="233.73" cy="112.24" r="1.42" fill="#0000ff"/>
<circle cx="235.68" cy="112.37" r="1.42" fill="#0000ff"/>
<circle cx="237.63" cy="112.53" r="1.42" fill="#0000ff"/>
<circle cx="239.57" cy="112.73" r="1.42" fill="#0000ff"/>
<circle cx="241.52" cy="112.97" r="1.42" fill="#0000ff"/>
<circle cx="243.47" cy="113.23" r="1.42" fill="#0000ff"/>
<circle cx="245.41" cy="113.51" r="1.42" fill="#0000ff"/>
<circle cx="247.36" cy="113.85" r="1.42" fill="#0000ff"/>
<circle cx="249.31" cy="114.25" r="1.42" fill="#0000ff"/>
<circle cx="251.25" cy="114.8" r="1.42" fill="#0000ff"/>
<circle cx="253.2" cy="115.62" r="1.42" fill="#0000ff"/>
<circle cx="255.15" cy="116.65" r="1.42" fill="#0000ff"/>
<circle cx="257.09" cy="118.01" r="1.42" fill="#0000ff"/>
<circle cx="259.04" cy="119.72" r="1.42" fill="#0000ff"/>
<circle cx="260.99" cy="121.66" r="1.42" fill="#0000ff"/>
<circle cx="262.93" cy="123.73" r="1.42" fill="#0000ff"/>
<circle cx="264.88" cy="126.14" r="1.42" fill="#0000ff"/>
<circle cx="266.82" cy="128.74" r="1.42" fill="#0000ff"/>
<circle cx="268.77" cy="131.51" r="1.42" fill="#0000ff"/>
<circle cx="270.72" cy="134.45" r="1.42" fill="#0000ff"/>
<circle cx="272.66" cy="137.37" r="1.42" fill="#0000ff"/>
<circle cx="274.61" cy="140.28" r="1.42" fill="#0000ff"/>
<circle cx="276.56" cy="143.17" r="1.42" fill="#0000ff"/>
<circle cx="278.5" cy="146.13" r="1.42" fill="#0000ff"/>
<circle cx="280.45" cy="148.92" r="1.42" fill="#0000ff"/>
<circle cx="282.4" cy="150.77" r="1.42" fill="#0000ff"/>
<circle cx="284.34" cy="152.17" r="1.42" fill="#0000ff"/>
<circle cx="286.29" cy="153.08" r="1.42" fill="#0000ff"/>
<circle cx="288.24" cy="153.74" r="1.42" fill="#0000ff"/>
<circle cx="290.18" cy="154.05" r="1.42" fill="#0000ff"/>
<circle cx="292.13" cy="154.21" r="1.42" fill="#0000ff"/>
<circle cx="294.08" cy="154.34" r="1.42" fill="#0000ff"/>
<circle cx="296.02" cy="154.46" r="1.42" fill="#0000ff"/>
<circle cx="297.97" cy="154.55" r="1.42" fill="#0000ff"/>
<circle cx="299.92" cy="154.63" r="1.42" fill="#0000ff"/>
<circle cx="301.86" cy="154.68" r="1.42" fill="#0000ff"/>
<circle cx="303.81" cy="154.71" r="1.42" fill="#0000ff"/>
<circle cx="305.76" cy="154.73" r="1.42" fill="#0000ff"/>
<circle cx="307.7" cy="154.73" r="1.42" fill="#0000ff"/>
<circle cx="309.65" cy="154.73" r="1.42" fill="#0000ff"/>
<circle cx="311.6" cy="154.73" r="1.42" fill="#0000ff"/>
<circle cx="313.54" cy="154.73" r="1.42" fill="#0000ff"/>
<circle cx="315.49" cy="154.73" r="1.42" fill="#0000ff"/>
<circle cx="317.44" cy="154.73" r="1.42" fill="#0000ff"/>
<circle cx="319.38" cy="154.73" r="1.42" fill="#0000ff"/>
<circle cx="321.33" cy="154.73" r="1.42" fill="#0000ff"/>
<circle cx="322.89" cy="148.92" r="1.42" fill="#0000ff"/>
<circle cx="324.72" cy="119.86" r="1.42" fill="#0000ff"/>
<circle cx="326.54" cy="96.61" r="1.42" fill="#0000ff"/>
<circle cx="328.47" cy="88.31" r="1.42" fill="#0000ff"/>
<circle cx="330.41" cy="86.56" r="1.42" fill="#0000ff"/>
<circle cx="332.35" cy="87.36" r="1.42" fill="#0000ff"/>
<circle cx="334.28" cy="89.12" r="1.42" fill="#0000ff"/>
<circle cx="336.22" cy="91.18" r="1.42" fill="#0000ff"/>
<circle cx="338.16" cy="93.27" r="1.42" fill="#0000ff"/>
<circle cx="340.09" cy="95.26" r="1.42" fill="#0000ff"/>
<circle cx="342.03" cy="97.09" r="1.42" fill="#0000ff"/>
<circle cx="343.97" cy="98.73" r="1.42" fill="#0000ff"/>
<circle cx="345.9" cy="100.17" r="1.42" fill="#0000ff"/>
<circle cx="347.84" cy="101.42" r="1.42" fill="#0000ff"/>
<circle cx="349.77" cy="102.49" r="1.42" fill="#0000ff"/>
<circle cx="351.71" cy="103.39" r="1.42" fill="#0000ff"/>
<circle cx="353.65" cy="104.15" r="1.42" fill="#0000ff"/>
<circle cx="355.58" cy="104.78" r="1.42" fill="#0000ff"/>
<circle cx="357.52" cy="105.3" r="1.42" fill="#0000ff"/>
<circle cx="359.46" cy="105.73" r="1.42" fill="#0000ff"/>
<circle cx="361.39" cy="106.08" r="1.42" fill="#0000ff"/>
<circle cx="363.33" cy="106.37" r="1.42" fill="#0000ff"/>
<circle cx="365.26" cy="106.61" r="1.42" fill="#0000ff"/>
<circle cx="367.2" cy="106.8" r="1.42" fill="#0000ff"/>
<circle cx="369.14" cy="106.95" r="1.42" fill="#0000ff"/>
<polyline points="369,101.2 367.05,100.57 365.1,99.87 363.15,99.1 361.2,98.24 359.25,97.28 357.3,96.09 355.35,94.79 353.4,93.45 351.45,92.02 349.5,90.35 347.55,88.25 345.6,85.98 343.65,83.82 341.7,81.67 339.75,79.4 337.8,76.9 335.85,74.32 333.9,71.83 331.95,69.37 330,67.16 328.05,65.24 326.1,63.57 324.15,62.38 322.2,61.46 320.25,60.88 318.3,60.49 316.35,60.27 314.4,60.26 312.45,60.26 310.5,60.26 308.55,60.26 306.6,60.26 304.65,60.26 302.7,60.26 300.75,60.26 298.8,60.26 296.85,60.26 294.9,60.26 292.95,60.26 291.18,67.36 289.12,102.87 287.06,131.27 285.09,135.06 283.12,137.15 281.15,137.77 279.18,136.57 277.21,134.34 275.23,132.33 273.26,130.24 271.29,128.05 269.32,125.8 267.35,123.55 265.38,121.21 263.41,118.9 261.44,117.13 259.47,115.73 257.5,114.54 255.53,113.57 253.56,112.77 251.59,112.11 249.62,111.68 247.65,111.39 245.68,111.16 243.71,110.96 241.74,110.78 239.76,110.6 237.79,110.43 235.82,110.29 233.85,110.16 231.88,110.03 229.91,109.87 227.94,109.68 225.97,109.43 224,109" fill="none" stroke="#008080" stroke-width="1.0" stroke-linejoin="round"/>
<circle cx="369" cy="101.2" r="1.42" fill="#008080"/>
<circle cx="367.05" cy="100.57" r="1.42" fill="#008080"/>
<circle cx="365.1" cy="99.87" r="1.42" fill="#008080"/>
<circle cx="363.15" cy="99.1" r="1.42" fill="#008080"/>
<circle cx="361.2" cy="98.24" r="1.42" fill="#008080"/>
<circle cx="359.25" cy="97.28" r="1.42" fill="#008080"/>
<circle cx="357.3" cy="96.09" r="1.42" fill="#008080"/>
<circle cx="355.35" cy="94.79" r="1.42" fill="#008080"/>
<circle cx="353.4" cy="93.45" r="1.42" fill="#008080"/>
<circle cx="351.45" cy="92.02" r="1.42" fill="#008080"/>
<circle cx="349.5" cy="90.35" r="1.42" fill="#008080"/>
<circle cx="347.55" cy="88.25" r="1.42" fill="#008080"/>
<circle cx="345.6" cy="85.98" r="1.42" fill="#008080"/>
<circle cx="343.65" cy="83.82" r="1.42" fill="#008080"/>
<circle cx="341.7" cy="81.67" r="1.42" fill="#008080"/>
<circle cx="339.75" cy="79.4" r="1.42" fill="#008080"/>
<circle cx="337.8" cy="76.9" r="1.42" fill="#008080"/>
<circle cx="335.85" cy="74.32" r="1.42" fill="#008080"/>
<circle cx="333.9" cy="71.83" r="1.42" fill="#008080"/>
<circle cx="331.95" cy="69.37" r="1.42" fill="#008080"/>
<circle cx="330" cy="67.16" r="1.42" fill="#008080"/>
<circle cx="328.05" cy="65.24" r="1.42" fill="#008080"/>
<circle cx="326.1" cy="63.57" r="1.42" fill="#008080"/>
<circle cx="324.15" cy="62.38" r="1.42" fill="#008080"/>
<circle cx="322.2" cy="61.46" r="1.42" fill="#008080"/>
<circle cx="320.25" cy="60.88" r="1.42" fill="#008080"/>
<circle cx="318.3" cy="60.49" r="1.42" fill="#008080"/>
<circle cx="316.35" cy="60.27" r="1.42" fill="#008080"/>
<circle cx="314.4" cy="60.26" r="1.42" fill="#008080"/>
<circle cx="312.45" cy="60.26" r="1.42" fill="#008080"/>
<circle cx="310.5" cy="60.26" r="1.42" fill="#008080"/>
<circle cx="308.55" cy="60.26" r="1.42" fill="#008080"/>
<circle cx="306.6" cy="60.26" r="1.42" fill="#008080"/>
<circle cx="304.65" cy="60.26" r="1.42" fill="#008080"/>
<circle cx="302.7" cy="60.26" r="1.42" fill="#008080"/>
<circle cx="300.75" cy="60.26" r="1.42" fill="#008080"/>
<circle cx="298.8" cy="60.26" r="1.42" fill="#008080"/>
<circle cx="296.85" cy="60.26" r="1.42" fill="#008080"/>
<circle cx="294.9" cy="60.26" r="1.42" fill="#008080"/>
<circle cx="292.95" cy="60.26" r="1.42" fill="#008080"/>
<circle cx="291.18" cy="67.36" r="1.42" fill="#008080"/>
<circle cx="289.12" cy="102.87" r="1.42" fill="#008080"/>
<circle cx="287.06" cy="131.27" r="1.42" fill="#008080"/>
<circle cx="285.09" cy="135.06" r="1.42" fill="#008080"/>
<circle cx="283.12" cy="137.15" r="1.42" fill="#008080"/>
<circle cx="281.15" cy="137.77" r="1.42" fill="#008080"/>
<circle cx="279.18" cy="136.57" r="1.42" fill="#008080"/>
<circle cx="277.21" cy="134.34" r="1.42" fill="#008080"/>
<circle cx="275.23" cy="132.33" r="1.42" fill="#008080"/>
<circle cx="273.26" cy="130.24" r="1.42" fill="#008080"/>
<circle cx="271.29" cy="128.05" r="1.42" fill="#008080"/>
<circle cx="269.32" cy="125.8" r="1.42" fill="#008080"/>
<circle cx="267.35" cy="123.55" r="1.42" fill="#008080"/>
<circle cx="265.38" cy="121.21" r="1.42" fill="#008080"/>
<circle cx="263.41" cy="118.9" r="1.42" fill="#008080"/>
<circle cx="261.44" cy="117.13" r="1.42" fill="#008080"/>
<circle cx="259.47" cy="115.73" r="1.42" fill="#008080"/>
<circle cx="257.5" cy="114.54" r="1.42" fill="#008080"/>
<circle cx="255.53" cy="113.57" r="1.42" fill="#008080"/>
<circle cx="253.56" cy="112.77" r="1.42" fill="#008080"/>
<circle cx="251.59" cy="112.11" r="1.42" fill="#008080"/>
<circle cx="249.62" cy="111.68" r="1.42" fill="#008080"/>
<circle cx="247.65" cy="111.39" r="1.42" fill="#008080"/>
<circle cx="245.68" cy="111.16" r="1.42" fill="#008080"/>
<circle cx="243.71" cy="110.96" r="1.42" fill="#008080"/>
<circle cx="241.74" cy="110.78" r="1.42" fill="#008080"/>
<circle cx="239.76" cy="110.6" r="1.42" fill="#008080"/>
<circle cx="237.79" cy="110.43" r="1.42" fill="#008080"/>
<circle cx="235.82" cy="110.29" r="1.42" fill="#008080"/>
<circle cx="233.85" cy="110.16" r="1.42" fill="#008080"/>
<circle cx="231.88" cy="110.03" r="1.42" fill="#008080"/>
<circle cx="229.91" cy="109.87" r="1.42" fill="#008080"/>
<circle cx="227.94" cy="109.68" r="1.42" fill="#008080"/>
<circle cx="225.97" cy="109.43" r="1.42" fill="#008080"/>
<circle cx="224" cy="109" r="1.42" fill="#008080"/>
<polyline points="224,109 225.95,109.43 227.9,109.68 229.85,109.87 231.8,110.02 233.75,110.16 235.7,110.29 237.65,110.43 239.6,110.59 241.56,110.78 243.51,110.96 245.46,111.16 247.41,111.39 249.36,111.68 251.31,112.09 253.26,112.74 255.21,113.54 257.16,114.51 259.11,115.71 261.06,117.13 263.01,118.88 264.96,121.23 266.91,123.78 268.86,126.28 270.81,128.88 272.76,131.58 274.72,134.38 276.67,137.34 278.62,140.82 280.57,144.33 282.52,146.66 284.47,148.47 286.42,149.96 288.37,151.24 290.32,152.2 292.27,152.97 294.22,153.41 296.17,153.66 298.12,153.88 300.07,154.05 302.02,154.18 303.97,154.27 305.92,154.3 307.88,154.3 309.83,154.3 311.78,154.3 313.73,154.3 315.68,154.3 317.63,154.3 318.86,148.15 320.3,117.41 321.74,92.81 323.7,83.31 325.67,81.02 327.63,81.59 329.59,83.32 331.56,85.5 333.52,87.84 335.49,90.18 337.45,92.44 339.41,94.55 341.38,96.48 343.34,98.22 345.3,99.74 347.27,101.07 349.23,102.2 351.19,103.16 353.16,103.97 355.12,104.64 357.08,105.19 359.05,105.65 361.01,106.02 362.97,106.32 364.94,106.57 366.9,106.77 368.86,106.93" fill="none" stroke="#008080" stroke-width="1.0" stroke-linejoin="round"/>
<circle cx="224" cy="109" r="1.42" fill="#008080"/>
<circle cx="225.95" cy="109.43" r="1.42" fill="#008080"/>
<circle cx="227.9" cy="109.68" r="1.42" fill="#008080"/>
<circle cx="229.85" cy="109.87" r="1.42" fill="#008080"/>
<circle cx="231.8" cy="110.02" r="1.42" fill="#008080"/>
<circle cx="233.75" cy="110.16" r="1.42" fill="#008080"/>
<circle cx="235.7" cy="110.29" r="1.42" fill="#008080"/>
<circle cx="237.65" cy="110.43" r="1.42" fill="#008080"/>
<circle cx="239.6" cy="110.59" r="1.42" fill="#008080"/>
<circle cx="241.56" cy="110.78" r="1.42" fill="#008080"/>
<circle cx="243.51" cy="110.96" r="1.42" fill="#008080"/>
<circle cx="245.46" cy="111.16" r="1.42" fill="#008080"/>
<circle cx="247.41" cy="111.39" r="1.42" fill="#008080"/>
<circle cx="249.36" cy="111.68" r="1.42" fill="#008080"/>
<circle cx="251.31" cy="112.09" r="1.42" fill="#008080"/>
<circle cx="253.26" cy="112.74" r="1.42" fill="#008080"/>
<circle cx="255.21" cy="113.54" r="1.42" fill="#008080"/>
<circle cx="257.16" cy="114.51" r="1.42" fill="#008080"/>
<circle cx="259.11" cy="115.71" r="1.42" fill="#008080"/>
<circle cx="261.06" cy="117.13" r="1.42" fill="#008080"/>
<circle cx="263.01" cy="118.88" r="1.42" fill="#008080"/>
<circle cx="264.96" cy="121.23" r="1.42" fill="#008080"/>
<circle cx="266.91" cy="123.78" r="1.42" fill="#008080"/>
<circle cx="268.86" cy="126.28" r="1.42" fill="#008080"/>
<circle cx="270.81" cy="128.88" r="1.42" fill="#008080"/>
<circle cx="272.76" cy="131.58" r="1.42" fill="#008080"/>
<circle cx="274.72" cy="134.38" r="1.42" fill="#008080"/>
<circle cx="276.67" cy="137.34" r="1.42" fill="#008080"/>
<circle cx="278.62" cy="140.82" r="1.42" fill="#008080"/>
<circle cx="280.57" cy="144.33" r="1.42" fill="#008080"/>
<circle cx="282.52" cy="146.66" r="1.42" fill="#008080"/>
<circle cx="284.47" cy="148.47" r="1.42" fill="#008080"/>
<circle cx="286.42" cy="149.96" r="1.42" fill="#008080"/>
<circle cx="288.37" cy="151.24" r="1.42" fill="#008080"/>
<circle cx="290.32" cy="152.2" r="1.42" fill="#008080"/>
<circle cx="292.27" cy="152.97" r="1.42" fill="#008080"/>
<circle cx="294.22" cy="153.41" r="1.42" fill="#008080"/>
<circle cx="296.17" cy="153.66" r="1.42" fill="#008080"/>
<circle cx="298.12" cy="153.88" r="1.42" fill="#008080"/>
<circle cx="300.07" cy="154.05" r="1.42" fill="#008080"/>
<circle cx="302.02" cy="154.18" r="1.42" fill="#008080"/>
<circle cx="303.97" cy="154.27" r="1.42" fill="#008080"/>
<circle cx="305.92" cy="154.3" r="1.42" fill="#008080"/>
<circle cx="307.88" cy="154.3" r="1.42" fill="#008080"/>
<circle cx="309.83" cy="154.3" r="1.42" fill="#008080"/>
<circle cx="311.78" cy="154.3" r="1.42" fill="#008080"/>
<circle cx="313.73" cy="154.3" r="1.42" fill="#008080"/>
<circle cx="315.68" cy="154.3" r="1.42" fill="#008080"/>
<circle cx="317.63" cy="154.3" r="1.42" fill="#008080"/>
<circle cx="318.86" cy="148.15" r="1.42" fill="#008080"/>
<circle cx="320.3" cy="117.41" r="1.42" fill="#008080"/>
<circle cx="321.74" cy="92.81" r="1.42" fill="#008080"/>
<circle cx="323.7" cy="83.31" r="1.42" fill="#008080"/>
<circle cx="325.67" cy="81.02" r="1.42" fill="#008080"/>
<circle cx="327.63" cy="81.59" r="1.42" fill="#008080"/>
<circle cx="329.59" cy="83.32" r="1.42" fill="#008080"/>
<circle cx="331.56" cy="85.5" r="1.42" fill="#008080"/>
<circle cx="333.52" cy="87.84" r="1.42" fill="#008080"/>
<circle cx="335.49" cy="90.18" r="1.42" fill="#008080"/>
<circle cx="337.45" cy="92.44" r="1.42" fill="#008080"/>
<circle cx="339.41" cy="94.55" r="1.42" fill="#008080"/>
<circle cx="341.38" cy="96.48" r="1.42" fill="#008080"/>
<circle cx="343.34" cy="98.22" r="1.42" fill="#008080"/>
<circle cx="345.3" cy="99.74" r="1.42" fill="#008080"/>
<circle cx="347.27" cy="101.07" r="1.42" fill="#008080"/>
<circle cx="349.23" cy="102.2" r="1.42" fill="#008080"/>
<circle cx="351.19" cy="103.16" r="1.42" fill="#008080"/>
<circle cx="353.16" cy="103.97" r="1.42" fill="#008080"/>
<circle cx="355.12" cy="104.64" r="1.42" fill="#008080"/>
<circle cx="357.08" cy="105.19" r="1.42" fill="#008080"/>
<circle cx="359.05" cy="105.65" r="1.42" fill="#008080"/>
<circle cx="361.01" cy="106.02" r="1.42" fill="#008080"/>
<circle cx="362.97" cy="106.32" r="1.42" fill="#008080"/>
<circle cx="364.94" cy="106.57" r="1.42" fill="#008080"/>
<circle cx="366.9" cy="106.77" r="1.42" fill="#008080"/>
<circle cx="368.86" cy="106.93" r="1.42" fill="#008080"/>
<polyline points="369.01,102.01 367.06,101.44 365.11,100.86 363.16,100.26 361.21,99.64 359.27,98.99 357.32,98.37 355.37,97.73 353.42,97.03 351.47,96.23 349.52,95.26 347.57,93.91 345.62,92.29 343.67,90.54 341.72,88.58 339.78,86.46 337.83,84.15 335.88,81.69 333.93,79.22 331.98,76.66 330.03,74.2 328.08,71.87 326.13,69.66 324.18,67.75 322.24,66.06 320.29,64.58 318.34,63.23 316.39,62.03 314.44,61.48 312.49,61.22 310.54,61.11 308.59,61.11 306.64,61.11 304.69,61.11 302.75,61.11 300.8,61.11 298.85,61.11 298.4,67.5 297.87,99.48 297.34,125.06 295.36,130.86 293.38,134.4 291.39,136 289.41,135.93 287.43,134.46 285.45,131.97 283.46,128.87 281.48,125.61 279.5,122.51 277.52,119.8 275.54,117.53 273.55,115.67 271.57,114.17 269.59,112.96 267.61,111.97 265.63,111.16 263.64,110.49 261.66,109.94 259.68,109.49 257.7,109.11 255.71,108.81 253.73,108.57 251.75,108.37 249.77,108.21 247.79,108.08 245.8,107.98 243.82,107.9 241.84,107.84 239.86,107.79 237.88,107.75 235.89,107.72 233.91,107.69 231.93,107.67 229.95,107.66 227.96,107.64 225.98,107.63 224,107.63" fill="none" stroke="#ff00ff" stroke-width="1.0" stroke-linejoin="round"/>
<circle cx="369.01" cy="102.01" r="1.42" fill="#ff00ff"/>
<circle cx="367.06" cy="101.44" r="1.42" fill="#ff00ff"/>
<circle cx="365.11" cy="100.86" r="1.42" fill="#ff00ff"/>
<circle cx="363.16" cy="100.26" r="1.42" fill="#ff00ff"/>
<circle cx="361.21" cy="99.64" r="1.42" fill="#ff00ff"/>
<circle cx="359.27" cy="98.99" r="1.42" fill="#ff00ff"/>
<circle cx="357.32" cy="98.37" r="1.42" fill="#ff00ff"/>
<circle cx="355.37" cy="97.73" r="1.42" fill="#ff00ff"/>
<circle cx="353.42" cy="97.03" r="1.42" fill="#ff00ff"/>
<circle cx="351.47" cy="96.23" r="1.42" fill="#ff00ff"/>
<circle cx="349.52" cy="95.26" r="1.42" fill="#ff00ff"/>
<circle cx="347.57" cy="93.91" r="1.42" fill="#ff00ff"/>
<circle cx="345.62" cy="92.29" r="1.42" fill="#ff00ff"/>
<circle cx="343.67" cy="90.54" r="1.42" fill="#ff00ff"/>
<circle cx="341.72" cy="88.58" r="1.42" fill="#ff00ff"/>
<circle cx="339.78" cy="86.46" r="1.42" fill="#ff00ff"/>
<circle cx="337.83" cy="84.15" r="1.42" fill="#ff00ff"/>
<circle cx="335.88" cy="81.69" r="1.42" fill="#ff00ff"/>
<circle cx="333.93" cy="79.22" r="1.42" fill="#ff00ff"/>
<circle cx="331.98" cy="76.66" r="1.42" fill="#ff00ff"/>
<circle cx="330.03" cy="74.2" r="1.42" fill="#ff00ff"/>
<circle cx="328.08" cy="71.87" r="1.42" fill="#ff00ff"/>
<circle cx="326.13" cy="69.66" r="1.42" fill="#ff00ff"/>
<circle cx="324.18" cy="67.75" r="1.42" fill="#ff00ff"/>
<circle cx="322.24" cy="66.06" r="1.42" fill="#ff00ff"/>
<circle cx="320.29" cy="64.58" r="1.42" fill="#ff00ff"/>
<circle cx="318.34" cy="63.23" r="1.42" fill="#ff00ff"/>
<circle cx="316.39" cy="62.03" r="1.42" fill="#ff00ff"/>
<circle cx="314.44" cy="61.48" r="1.42" fill="#ff00ff"/>
<circle cx="312.49" cy="61.22" r="1.42" fill="#ff00ff"/>
<circle cx="310.54" cy="61.11" r="1.42" fill="#ff00ff"/>
<circle cx="308.59" cy="61.11" r="1.42" fill="#ff00ff"/>
<circle cx="306.64" cy="61.11" r="1.42" fill="#ff00ff"/>
<circle cx="304.69" cy="61.11" r="1.42" fill="#ff00ff"/>
<circle cx="302.75" cy="61.11" r="1.42" fill="#ff00ff"/>
<circle cx="300.8" cy="61.11" r="1.42" fill="#ff00ff"/>
<circle cx="298.85" cy="61.11" r="1.42" fill="#ff00ff"/>
<circle cx="298.4" cy="67.5" r="1.42" fill="#ff00ff"/>
<circle cx="297.87" cy="99.48" r="1.42" fill="#ff00ff"/>
<circle cx="297.34" cy="125.06" r="1.42" fill="#ff00ff"/>
<circle cx="295.36" cy="130.86" r="1.42" fill="#ff00ff"/>
<circle cx="293.38" cy="134.4" r="1.42" fill="#ff00ff"/>
<circle cx="291.39" cy="136" r="1.42" fill="#ff00ff"/>
<circle cx="289.41" cy="135.93" r="1.42" fill="#ff00ff"/>
<circle cx="287.43" cy="134.46" r="1.42" fill="#ff00ff"/>
<circle cx="285.45" cy="131.97" r="1.42" fill="#ff00ff"/>
<circle cx="283.46" cy="128.87" r="1.42" fill="#ff00ff"/>
<circle cx="281.48" cy="125.61" r="1.42" fill="#ff00ff"/>
<circle cx="279.5" cy="122.51" r="1.42" fill="#ff00ff"/>
<circle cx="277.52" cy="119.8" r="1.42" fill="#ff00ff"/>
<circle cx="275.54" cy="117.53" r="1.42" fill="#ff00ff"/>
<circle cx="273.55" cy="115.67" r="1.42" fill="#ff00ff"/>
<circle cx="271.57" cy="114.17" r="1.42" fill="#ff00ff"/>
<circle cx="269.59" cy="112.96" r="1.42" fill="#ff00ff"/>
<circle cx="267.61" cy="111.97" r="1.42" fill="#ff00ff"/>
<circle cx="265.63" cy="111.16" r="1.42" fill="#ff00ff"/>
<circle cx="263.64" cy="110.49" r="1.42" fill="#ff00ff"/>
<circle cx="261.66" cy="109.94" r="1.42" fill="#ff00ff"/>
<circle cx="259.68" cy="109.49" r="1.42" fill="#ff00ff"/>
<circle cx="257.7" cy="109.11" r="1.42" fill="#ff00ff"/>
<circle cx="255.71" cy="108.81" r="1.42" fill="#ff00ff"/>
<circle cx="253.73" cy="108.57" r="1.42" fill="#ff00ff"/>
<circle cx="251.75" cy="108.37" r="1.42" fill="#ff00ff"/>
<circle cx="249.77" cy="108.21" r="1.42" fill="#ff00ff"/>
<circle cx="247.79" cy="108.08" r="1.42" fill="#ff00ff"/>
<circle cx="245.8" cy="107.98" r="1.42" fill="#ff00ff"/>
<circle cx="243.82" cy="107.9" r="1.42" fill="#ff00ff"/>
<circle cx="241.84" cy="107.84" r="1.42" fill="#ff00ff"/>
<circle cx="239.86" cy="107.79" r="1.42" fill="#ff00ff"/>
<circle cx="237.88" cy="107.75" r="1.42" fill="#ff00ff"/>
<circle cx="235.89" cy="107.72" r="1.42" fill="#ff00ff"/>
<circle cx="233.91" cy="107.69" r="1.42" fill="#ff00ff"/>
<circle cx="231.93" cy="107.67" r="1.42" fill="#ff00ff"/>
<circle cx="229.95" cy="107.66" r="1.42" fill="#ff00ff"/>
<circle cx="227.96" cy="107.64" r="1.42" fill="#ff00ff"/>
<circle cx="225.98" cy="107.63" r="1.42" fill="#ff00ff"/>
<circle cx="224" cy="107.63" r="1.42" fill="#ff00ff"/>
<polyline points="224,107.82 225.96,107.9 227.92,107.96 229.89,108 231.85,108.05 233.81,108.09 235.77,108.13 237.73,108.18 239.69,108.24 241.66,108.32 243.62,108.44 245.58,108.57 247.54,108.71 249.5,108.86 251.47,109.01 253.43,109.17 255.39,109.39 257.35,109.7 259.31,110.11 261.27,110.63 263.24,111.27 265.2,112.05 267.16,113.34 269.12,115.18 271.08,117.27 273.05,119.89 275.01,122.84 276.97,126.1 278.93,129.54 280.89,133.03 282.85,136.51 284.82,139.95 286.78,143.02 288.74,145.94 290.7,148.05 292.66,149.3 294.63,150.12 296.59,150.45 298.55,150.69 300.51,150.89 302.47,151.03 304.43,151.11 306.4,151.13 308.36,151.13 310.32,151.13 312.28,151.13 312.73,145.27 313.26,115.92 313.79,92.44 315.76,85.38 317.72,80.44 319.69,77.2 321.65,75.38 323.62,74.75 325.59,75.15 327.55,76.4 329.52,78.31 331.48,80.67 333.45,83.22 335.42,85.77 337.38,88.15 339.35,90.3 341.31,92.18 343.28,93.81 345.25,95.23 347.21,96.48 349.18,97.6 351.14,98.62 353.11,99.56 355.08,100.43 357.04,101.23 359.01,101.98 360.98,102.66 362.94,103.28 364.91,103.84 366.87,104.35 368.84,104.8" fill="none" stroke="#ff00ff" stroke-width="1.0" stroke-linejoin="round"/>
<circle cx="224" cy="107.82" r="1.42" fill="#ff00ff"/>
<circle cx="225.96" cy="107.9" r="1.42" fill="#ff00ff"/>
<circle cx="227.92" cy="107.96" r="1.42" fill="#ff00ff"/>
<circle cx="229.89" cy="108" r="1.42" fill="#ff00ff"/>
<circle cx="231.85" cy="108.05" r="1.42" fill="#ff00ff"/>
<circle cx="233.81" cy="108.09" r="1.42" fill="#ff00ff"/>
<circle cx="235.77" cy="108.13" r="1.42" fill="#ff00ff"/>
<circle cx="237.73" cy="108.18" r="1.42" fill="#ff00ff"/>
<circle cx="239.69" cy="108.24" r="1.42" fill="#ff00ff"/>
<circle cx="241.66" cy="108.32" r="1.42" fill="#ff00ff"/>
<circle cx="243.62" cy="108.44" r="1.42" fill="#ff00ff"/>
<circle cx="245.58" cy="108.57" r="1.42" fill="#ff00ff"/>
<circle cx="247.54" cy="108.71" r="1.42" fill="#ff00ff"/>
<circle cx="249.5" cy="108.86" r="1.42" fill="#ff00ff"/>
<circle cx="251.47" cy="109.01" r="1.42" fill="#ff00ff"/>
<circle cx="253.43" cy="109.17" r="1.42" fill="#ff00ff"/>
<circle cx="255.39" cy="109.39" r="1.42" fill="#ff00ff"/>
<circle cx="257.35" cy="109.7" r="1.42" fill="#ff00ff"/>
<circle cx="259.31" cy="110.11" r="1.42" fill="#ff00ff"/>
<circle cx="261.27" cy="110.63" r="1.42" fill="#ff00ff"/>
<circle cx="263.24" cy="111.27" r="1.42" fill="#ff00ff"/>
<circle cx="265.2" cy="112.05" r="1.42" fill="#ff00ff"/>
<circle cx="267.16" cy="113.34" r="1.42" fill="#ff00ff"/>
<circle cx="269.12" cy="115.18" r="1.42" fill="#ff00ff"/>
<circle cx="271.08" cy="117.27" r="1.42" fill="#ff00ff"/>
<circle cx="273.05" cy="119.89" r="1.42" fill="#ff00ff"/>
<circle cx="275.01" cy="122.84" r="1.42" fill="#ff00ff"/>
<circle cx="276.97" cy="126.1" r="1.42" fill="#ff00ff"/>
<circle cx="278.93" cy="129.54" r="1.42" fill="#ff00ff"/>
<circle cx="280.89" cy="133.03" r="1.42" fill="#ff00ff"/>
<circle cx="282.85" cy="136.51" r="1.42" fill="#ff00ff"/>
<circle cx="284.82" cy="139.95" r="1.42" fill="#ff00ff"/>
<circle cx="286.78" cy="143.02" r="1.42" fill="#ff00ff"/>
<circle cx="288.74" cy="145.94" r="1.42" fill="#ff00ff"/>
<circle cx="290.7" cy="148.05" r="1.42" fill="#ff00ff"/>
<circle cx="292.66" cy="149.3" r="1.42" fill="#ff00ff"/>
<circle cx="294.63" cy="150.12" r="1.42" fill="#ff00ff"/>
<circle cx="296.59" cy="150.45" r="1.42" fill="#ff00ff"/>
<circle cx="298.55" cy="150.69" r="1.42" fill="#ff00ff"/>
<circle cx="300.51" cy="150.89" r="1.42" fill="#ff00ff"/>
<circle cx="302.47" cy="151.03" r="1.42" fill="#ff00ff"/>
<circle cx="304.43" cy="151.11" r="1.42" fill="#ff00ff"/>
<circle cx="306.4" cy="151.13" r="1.42" fill="#ff00ff"/>
<circle cx="308.36" cy="151.13" r="1.42" fill="#ff00ff"/>
<circle cx="310.32" cy="151.13" r="1.42" fill="#ff00ff"/>
<circle cx="312.28" cy="151.13" r="1.42" fill="#ff00ff"/>
<circle cx="312.73" cy="145.27" r="1.42" fill="#ff00ff"/>
<circle cx="313.26" cy="115.92" r="1.42" fill="#ff00ff"/>
<circle cx="313.79" cy="92.44" r="1.42" fill="#ff00ff"/>
<circle cx="315.76" cy="85.38" r="1.42" fill="#ff00ff"/>
<circle cx="317.72" cy="80.44" r="1.42" fill="#ff00ff"/>
<circle cx="319.69" cy="77.2" r="1.42" fill="#ff00ff"/>
<circle cx="321.65" cy="75.38" r="1.42" fill="#ff00ff"/>
<circle cx="323.62" cy="74.75" r="1.42" fill="#ff00ff"/>
<circle cx="325.59" cy="75.15" r="1.42" fill="#ff00ff"/>
<circle cx="327.55" cy="76.4" r="1.42" fill="#ff00ff"/>
<circle cx="329.52" cy="78.31" r="1.42" fill="#ff00ff"/>
<circle cx="331.48" cy="80.67" r="1.42" fill="#ff00ff"/>
<circle cx="333.45" cy="83.22" r="1.42" fill="#ff00ff"/>
<circle cx="335.42" cy="85.77" r="1.42" fill="#ff00ff"/>
<circle cx="337.38" cy="88.15" r="1.42" fill="#ff00ff"/>
<circle cx="339.35" cy="90.3" r="1.42" fill="#ff00ff"/>
<circle cx="341.31" cy="92.18" r="1.42" fill="#ff00ff"/>
<circle cx="343.28" cy="93.81" r="1.42" fill="#ff00ff"/>
<circle cx="345.25" cy="95.23" r="1.42" fill="#ff00ff"/>
<circle cx="347.21" cy="96.48" r="1.42" fill="#ff00ff"/>
<circle cx="349.18" cy="97.6" r="1.42" fill="#ff00ff"/>
<circle cx="351.14" cy="98.62" r="1.42" fill="#ff00ff"/>
<circle cx="353.11" cy="99.56" r="1.42" fill="#ff00ff"/>
<circle cx="355.08" cy="100.43" r="1.42" fill="#ff00ff"/>
<circle cx="357.04" cy="101.23" r="1.42" fill="#ff00ff"/>
<circle cx="359.01" cy="101.98" r="1.42" fill="#ff00ff"/>
<circle cx="360.98" cy="102.66" r="1.42" fill="#ff00ff"/>
<circle cx="362.94" cy="103.28" r="1.42" fill="#ff00ff"/>
<circle cx="364.91" cy="103.84" r="1.42" fill="#ff00ff"/>
<circle cx="366.87" cy="104.35" r="1.42" fill="#ff00ff"/>
<circle cx="368.84" cy="104.8" r="1.42" fill="#ff00ff"/>
<polyline points="346.28,103.17 344.28,102.16 342.28,100.93 340.29,99.43 338.29,97.61 336.29,95.44 334.29,92.89 332.3,90.01 330.3,86.88 328.3,83.67 326.3,80.53 324.31,77.63 322.31,75.1 320.31,72.98 318.31,71.28 316.32,69.95 314.32,68.94 312.32,68.18 310.32,67.62 308.33,67.22 306.33,66.93 304.33,66.71 303.88,72.84 303.35,103.47 302.82,127.98 300.9,133.43 298.97,135.45 297.04,135.38 295.12,134.01 293.19,131.84 291.26,129.2 289.34,126.34 287.41,123.48 285.49,120.76 283.56,118.3 281.63,116.15 279.71,114.34 277.78,112.84 275.85,111.64 273.93,110.69 272,109.95 270.07,109.38 268.15,108.94 266.22,108.61" fill="none" stroke="#808000" stroke-width="1.0" stroke-linejoin="round"/>
<circle cx="346.28" cy="103.17" r="1.42" fill="#808000"/>
<circle cx="344.28" cy="102.16" r="1.42" fill="#808000"/>
<circle cx="342.28" cy="100.93" r="1.42" fill="#808000"/>
<circle cx="340.29" cy="99.43" r="1.42" fill="#808000"/>
<circle cx="338.29" cy="97.61" r="1.42" fill="#808000"/>
<circle cx="336.29" cy="95.44" r="1.42" fill="#808000"/>
<circle cx="334.29" cy="92.89" r="1.42" fill="#808000"/>
<circle cx="332.3" cy="90.01" r="1.42" fill="#808000"/>
<circle cx="330.3" cy="86.88" r="1.42" fill="#808000"/>
<circle cx="328.3" cy="83.67" r="1.42" fill="#808000"/>
<circle cx="326.3" cy="80.53" r="1.42" fill="#808000"/>
<circle cx="324.31" cy="77.63" r="1.42" fill="#808000"/>
<circle cx="322.31" cy="75.1" r="1.42" fill="#808000"/>
<circle cx="320.31" cy="72.98" r="1.42" fill="#808000"/>
<circle cx="318.31" cy="71.28" r="1.42" fill="#808000"/>
<circle cx="316.32" cy="69.95" r="1.42" fill="#808000"/>
<circle cx="314.32" cy="68.94" r="1.42" fill="#808000"/>
<circle cx="312.32" cy="68.18" r="1.42" fill="#808000"/>
<circle cx="310.32" cy="67.62" r="1.42" fill="#808000"/>
<circle cx="308.33" cy="67.22" r="1.42" fill="#808000"/>
<circle cx="306.33" cy="66.93" r="1.42" fill="#808000"/>
<circle cx="304.33" cy="66.71" r="1.42" fill="#808000"/>
<circle cx="303.88" cy="72.84" r="1.42" fill="#808000"/>
<circle cx="303.35" cy="103.47" r="1.42" fill="#808000"/>
<circle cx="302.82" cy="127.98" r="1.42" fill="#808000"/>
<circle cx="300.9" cy="133.43" r="1.42" fill="#808000"/>
<circle cx="298.97" cy="135.45" r="1.42" fill="#808000"/>
<circle cx="297.04" cy="135.38" r="1.42" fill="#808000"/>
<circle cx="295.12" cy="134.01" r="1.42" fill="#808000"/>
<circle cx="293.19" cy="131.84" r="1.42" fill="#808000"/>
<circle cx="291.26" cy="129.2" r="1.42" fill="#808000"/>
<circle cx="289.34" cy="126.34" r="1.42" fill="#808000"/>
<circle cx="287.41" cy="123.48" r="1.42" fill="#808000"/>
<circle cx="285.49" cy="120.76" r="1.42" fill="#808000"/>
<circle cx="283.56" cy="118.3" r="1.42" fill="#808000"/>
<circle cx="281.63" cy="116.15" r="1.42" fill="#808000"/>
<circle cx="279.71" cy="114.34" r="1.42" fill="#808000"/>
<circle cx="277.78" cy="112.84" r="1.42" fill="#808000"/>
<circle cx="275.85" cy="111.64" r="1.42" fill="#808000"/>
<circle cx="273.93" cy="110.69" r="1.42" fill="#808000"/>
<circle cx="272" cy="109.95" r="1.42" fill="#808000"/>
<circle cx="270.07" cy="109.38" r="1.42" fill="#808000"/>
<circle cx="268.15" cy="108.94" r="1.42" fill="#808000"/>
<circle cx="266.22" cy="108.61" r="1.42" fill="#808000"/>
<polyline points="266.22,108.61 268.21,108.96 270.2,109.42 272.19,110.02 274.19,110.81 276.18,111.83 278.17,113.12 280.16,114.74 282.15,116.7 284.14,119.03 286.13,121.7 288.12,124.63 290.11,127.73 292.1,130.85 294.1,133.85 296.09,136.63 298.08,139.09 300.07,141.19 302.06,142.94 304.05,144.35 306.04,145.46 308.03,133.26 308.48,128.05 309.01,102 309.54,81.17 311.47,77.51 313.41,75.52 315.34,74.79 317.27,75.06 319.21,76.17 321.14,77.96 323.08,80.31 325.01,83.05 326.94,85.99 328.88,88.95 330.81,91.76 332.74,94.31 334.68,96.53 336.61,98.41 338.54,99.98 340.48,101.29 342.41,102.37 344.34,103.27 346.28,104.03" fill="none" stroke="#808000" stroke-width="1.0" stroke-linejoin="round"/>
<circle cx="266.22" cy="108.61" r="1.42" fill="#808000"/>
<circle cx="268.21" cy="108.96" r="1.42" fill="#808000"/>
<circle cx="270.2" cy="109.42" r="1.42" fill="#808000"/>
<circle cx="272.19" cy="110.02" r="1.42" fill="#808000"/>
<circle cx="274.19" cy="110.81" r="1.42" fill="#808000"/>
<circle cx="276.18" cy="111.83" r="1.42" fill="#808000"/>
<circle cx="278.17" cy="113.12" r="1.42" fill="#808000"/>
<circle cx="280.16" cy="114.74" r="1.42" fill="#808000"/>
<circle cx="282.15" cy="116.7" r="1.42" fill="#808000"/>
<circle cx="284.14" cy="119.03" r="1.42" fill="#808000"/>
<circle cx="286.13" cy="121.7" r="1.42" fill="#808000"/>
<circle cx="288.12" cy="124.63" r="1.42" fill="#808000"/>
<circle cx="290.11" cy="127.73" r="1.42" fill="#808000"/>
<circle cx="292.1" cy="130.85" r="1.42" fill="#808000"/>
<circle cx="294.1" cy="133.85" r="1.42" fill="#808000"/>
<circle cx="296.09" cy="136.63" r="1.42" fill="#808000"/>
<circle cx="298.08" cy="139.09" r="1.42" fill="#808000"/>
<circle cx="300.07" cy="141.19" r="1.42" fill="#808000"/>
<circle cx="302.06" cy="142.94" r="1.42" fill="#808000"/>
<circle cx="304.05" cy="144.35" r="1.42" fill="#808000"/>
<circle cx="306.04" cy="145.46" r="1.42" fill="#808000"/>
<circle cx="308.03" cy="133.26" r="1.42" fill="#808000"/>
<circle cx="308.48" cy="128.05" r="1.42" fill="#808000"/>
<circle cx="309.01" cy="102" r="1.42" fill="#808000"/>
<circle cx="309.54" cy="81.17" r="1.42" fill="#808000"/>
<circle cx="311.47" cy="77.51" r="1.42" fill="#808000"/>
<circle cx="313.41" cy="75.52" r="1.42" fill="#808000"/>
<circle cx="315.34" cy="74.79" r="1.42" fill="#808000"/>
<circle cx="317.27" cy="75.06" r="1.42" fill="#808000"/>
<circle cx="319.21" cy="76.17" r="1.42" fill="#808000"/>
<circle cx="321.14" cy="77.96" r="1.42" fill="#808000"/>
<circle cx="323.08" cy="80.31" r="1.42" fill="#808000"/>
<circle cx="325.01" cy="83.05" r="1.42" fill="#808000"/>
<circle cx="326.94" cy="85.99" r="1.42" fill="#808000"/>
<circle cx="328.88" cy="88.95" r="1.42" fill="#808000"/>
<circle cx="330.81" cy="91.76" r="1.42" fill="#808000"/>
<circle cx="332.74" cy="94.31" r="1.42" fill="#808000"/>
<circle cx="334.68" cy="96.53" r="1.42" fill="#808000"/>
<circle cx="336.61" cy="98.41" r="1.42" fill="#808000"/>
<circle cx="338.54" cy="99.98" r="1.42" fill="#808000"/>
<circle cx="340.48" cy="101.29" r="1.42" fill="#808000"/>
<circle cx="342.41" cy="102.37" r="1.42" fill="#808000"/>
<circle cx="344.34" cy="103.27" r="1.42" fill="#808000"/>
<circle cx="346.28" cy="104.03" r="1.42" fill="#808000"/>
<polyline points="265.81,106.54 301.86,106.54" fill="none" stroke="#000080" stroke-width="1.0" stroke-linejoin="round"/>
<polyline points="265.81,106.54 267.77,106.54 269.73,106.54 271.69,106.54 273.65,106.54 275.61,106.54 277.57,106.54 279.53,106.54 281.49,106.54 283.45,106.54 285.41,106.54 287.37,106.54 289.33,106.54 291.29,106.54 293.25,106.54 295.21,106.54 297.18,106.54 299.14,106.54 301.1,106.54" fill="none" stroke="#000080" stroke-width="1.0" stroke-linejoin="round"/>
<circle cx="265.81" cy="106.54" r="1.05" fill="#000080"/>
<circle cx="267.77" cy="106.54" r="1.05" fill="#000080"/>
<circle cx="269.73" cy="106.54" r="1.05" fill="#000080"/>
<circle cx="271.69" cy="106.54" r="1.05" fill="#000080"/>
<circle cx="273.65" cy="106.54" r="1.05" fill="#000080"/>
<circle cx="275.61" cy="106.54" r="1.05" fill="#000080"/>
<circle cx="277.57" cy="106.54" r="1.05" fill="#000080"/>
<circle cx="279.53" cy="106.54" r="1.05" fill="#000080"/>
<circle cx="281.49" cy="106.54" r="1.05" fill="#000080"/>
<circle cx="283.45" cy="106.54" r="1.05" fill="#000080"/>
<circle cx="285.41" cy="106.54" r="1.05" fill="#000080"/>
<circle cx="287.37" cy="106.54" r="1.05" fill="#000080"/>
<circle cx="289.33" cy="106.54" r="1.05" fill="#000080"/>
<circle cx="291.29" cy="106.54" r="1.05" fill="#000080"/>
<circle cx="293.25" cy="106.54" r="1.05" fill="#000080"/>
<circle cx="295.21" cy="106.54" r="1.05" fill="#000080"/>
<circle cx="297.18" cy="106.54" r="1.05" fill="#000080"/>
<circle cx="299.14" cy="106.54" r="1.05" fill="#000080"/>
<circle cx="301.1" cy="106.54" r="1.05" fill="#000080"/>
<polyline points="302.27,106.54 302.27,98.34 304.22,96.48 306.16,94.93 308.1,94.13 310.04,94.19 311.98,94.78 313.92,95.75 315.86,96.99 317.8,98.31 319.74,99.57 321.68,100.68 323.62,101.56 325.56,102.22 327.51,102.68 329.45,102.98 331.39,103.16 333.33,103.27 335.27,103.32 337.21,103.35 339.15,103.36" fill="none" stroke="#000080" stroke-width="1.4" stroke-linejoin="round"/>
<circle cx="302.27" cy="106.54" r="1.05" fill="#000080"/>
<circle cx="302.27" cy="98.34" r="1.05" fill="#000080"/>
<circle cx="304.22" cy="96.48" r="1.05" fill="#000080"/>
<circle cx="306.16" cy="94.93" r="1.05" fill="#000080"/>
<circle cx="308.1" cy="94.13" r="1.05" fill="#000080"/>
<circle cx="310.04" cy="94.19" r="1.05" fill="#000080"/>
<circle cx="311.98" cy="94.78" r="1.05" fill="#000080"/>
<circle cx="313.92" cy="95.75" r="1.05" fill="#000080"/>
<circle cx="315.86" cy="96.99" r="1.05" fill="#000080"/>
<circle cx="317.8" cy="98.31" r="1.05" fill="#000080"/>
<circle cx="319.74" cy="99.57" r="1.05" fill="#000080"/>
<circle cx="321.68" cy="100.68" r="1.05" fill="#000080"/>
<circle cx="323.62" cy="101.56" r="1.05" fill="#000080"/>
<circle cx="325.56" cy="102.22" r="1.05" fill="#000080"/>
<circle cx="327.51" cy="102.68" r="1.05" fill="#000080"/>
<circle cx="329.45" cy="102.98" r="1.05" fill="#000080"/>
<circle cx="331.39" cy="103.16" r="1.05" fill="#000080"/>
<circle cx="333.33" cy="103.27" r="1.05" fill="#000080"/>
<circle cx="335.27" cy="103.32" r="1.05" fill="#000080"/>
<circle cx="337.21" cy="103.35" r="1.05" fill="#000080"/>
<circle cx="339.15" cy="103.36" r="1.05" fill="#000080"/>
<line x1="266.5" y1="105.28" x2="346.69" y2="105.28" stroke="#800000" stroke-width="2.5"/>
</g>
<path d="M224.0 44.2 H388.5 V171.0 H224.0 V44.2" stroke="#333" stroke-width="1.3" fill="none"/>
<line x1="306.1" y1="44.2" x2="306.1" y2="171" stroke="#555" stroke-width="1.6" stroke-opacity="0.85"/>
<line x1="237.71" y1="171" x2="237.71" y2="168.8" stroke="#333" stroke-width="1" />
<line x1="237.71" y1="44.2" x2="237.71" y2="46.4" stroke="#333" stroke-width="1" />
<line x1="251.42" y1="171" x2="251.42" y2="168.8" stroke="#333" stroke-width="1" />
<line x1="251.42" y1="44.2" x2="251.42" y2="46.4" stroke="#333" stroke-width="1" />
<line x1="265.12" y1="171" x2="265.12" y2="168.8" stroke="#333" stroke-width="1" />
<line x1="265.12" y1="44.2" x2="265.12" y2="46.4" stroke="#333" stroke-width="1" />
<line x1="278.83" y1="171" x2="278.83" y2="168.8" stroke="#333" stroke-width="1" />
<line x1="278.83" y1="44.2" x2="278.83" y2="46.4" stroke="#333" stroke-width="1" />
<line x1="292.54" y1="171" x2="292.54" y2="168.8" stroke="#333" stroke-width="1" />
<line x1="292.54" y1="44.2" x2="292.54" y2="46.4" stroke="#333" stroke-width="1" />
<line x1="306.25" y1="171" x2="306.25" y2="168.8" stroke="#333" stroke-width="1" />
<line x1="306.25" y1="44.2" x2="306.25" y2="46.4" stroke="#333" stroke-width="1" />
<line x1="319.96" y1="171" x2="319.96" y2="168.8" stroke="#333" stroke-width="1" />
<line x1="319.96" y1="44.2" x2="319.96" y2="46.4" stroke="#333" stroke-width="1" />
<line x1="333.67" y1="171" x2="333.67" y2="168.8" stroke="#333" stroke-width="1" />
<line x1="333.67" y1="44.2" x2="333.67" y2="46.4" stroke="#333" stroke-width="1" />
<line x1="347.38" y1="171" x2="347.38" y2="168.8" stroke="#333" stroke-width="1" />
<line x1="347.38" y1="44.2" x2="347.38" y2="46.4" stroke="#333" stroke-width="1" />
<line x1="361.08" y1="171" x2="361.08" y2="168.8" stroke="#333" stroke-width="1" />
<line x1="361.08" y1="44.2" x2="361.08" y2="46.4" stroke="#333" stroke-width="1" />
<line x1="374.79" y1="171" x2="374.79" y2="168.8" stroke="#333" stroke-width="1" />
<line x1="374.79" y1="44.2" x2="374.79" y2="46.4" stroke="#333" stroke-width="1" />
<line x1="224" y1="149.87" x2="226.6" y2="149.87" stroke="#333" stroke-width="1" />
<line x1="224" y1="128.73" x2="226.6" y2="128.73" stroke="#333" stroke-width="1" />
<line x1="224" y1="86.47" x2="226.6" y2="86.47" stroke="#333" stroke-width="1" />
<line x1="224" y1="65.33" x2="226.6" y2="65.33" stroke="#333" stroke-width="1" />
<text x="222.4" y="38" font-size="12" text-anchor="middle" fill="#000" >−2.1</text>
<text x="250.22" y="38" font-size="12" text-anchor="middle" fill="#000" >−1.4</text>
<text x="277.63" y="38" font-size="12" text-anchor="middle" fill="#000" >−0.7</text>
<text x="306.25" y="38" font-size="12" text-anchor="middle" fill="#000" >0.0</text>
<text x="333.67" y="38" font-size="12" text-anchor="middle" fill="#000" >0.7</text>
<text x="361.08" y="38" font-size="12" text-anchor="middle" fill="#000" >1.4</text>
<text x="388.5" y="38" font-size="12" text-anchor="middle" fill="#000" >2.1</text>
<text x="222.8" y="185.8" font-size="12" text-anchor="middle" fill="#000" >−60</text>
<text x="250.22" y="185.8" font-size="12" text-anchor="middle" fill="#000" >−40</text>
<text x="277.63" y="185.8" font-size="12" text-anchor="middle" fill="#000" >−20</text>
<text x="306.25" y="185.8" font-size="12" text-anchor="middle" fill="#000" >0</text>
<text x="333.67" y="185.8" font-size="12" text-anchor="middle" fill="#000" >20</text>
<text x="361.08" y="185.8" font-size="12" text-anchor="middle" fill="#000" >40</text>
<text x="388.5" y="185.8" font-size="12" text-anchor="middle" fill="#000" >60</text>
<text x="217.3" y="69.43" font-size="12" text-anchor="end" fill="#000" >1</text>
<text x="217.3" y="111.7" font-size="12" text-anchor="end" fill="#000" >0</text>
<text x="217.3" y="153.97" font-size="12" text-anchor="end" fill="#000" >−1</text>
<text x="304.4" y="17.9" font-size="12" text-anchor="middle" fill="#000"><tspan font-style="italic">I</tspan> (mA)</text>
<text x="304" y="206.5" font-size="12" text-anchor="middle" fill="#000"><tspan font-style="italic">J</tspan> (A cm<tspan font-size="8.5" dy="-5.3">−2</tspan><tspan dy="5.3">)</tspan></text>
<text x="396.3" y="176.4" font-size="12" fill="#000">(<tspan font-size="15.5" dy="1.9" dx="-0.4">×</tspan><tspan dy="-1.9" dx="-0.6">10</tspan><tspan font-size="8.5" dy="-5.3">5</tspan><tspan dy="5.3">)</tspan></text>
<text transform="translate(200.2,106.6) rotate(-90)" font-size="12" text-anchor="middle" fill="#000"><tspan font-style="italic">R</tspan><tspan font-size="8.5" dy="3">H</tspan><tspan dy="-3"> (KΩ)</tspan></text>
<rect x="369.2" y="46.6" width="70" height="117.4" fill="#fff"/>
<text x="358.5" y="57.2" font-size="12" fill="#000"><tspan font-style="italic">H</tspan><tspan font-style="italic" font-size="8.5" dy="3.5">y</tspan><tspan dy="-3.5">=</tspan><tspan dx="2.6">+500 Oe</tspan></text>
<line x1="369.9" y1="67.2" x2="393.7" y2="67.2" stroke="#444" stroke-width="1"/>
<circle cx="381.8" cy="67.2" r="1.65" fill="#000000"/>
<text x="399.8" y="71.4" font-size="12" fill="#000">10 K</text>
<line x1="369.9" y1="80.03" x2="393.7" y2="80.03" stroke="#ff3535" stroke-width="1"/>
<circle cx="381.8" cy="80.03" r="1.65" fill="#ff0000"/>
<text x="399.8" y="84.23" font-size="12" fill="#000">20 K</text>
<line x1="369.9" y1="92.86" x2="393.7" y2="92.86" stroke="#5050ff" stroke-width="1"/>
<circle cx="381.8" cy="92.86" r="1.65" fill="#0000ff"/>
<text x="399.8" y="97.06" font-size="12" fill="#000">30 K</text>
<line x1="369.9" y1="105.69" x2="393.7" y2="105.69" stroke="#309090" stroke-width="1"/>
<circle cx="381.8" cy="105.69" r="1.65" fill="#008080"/>
<text x="399.8" y="109.89" font-size="12" fill="#000">40 K</text>
<line x1="369.9" y1="118.52" x2="393.7" y2="118.52" stroke="#ff40ff" stroke-width="1"/>
<circle cx="381.8" cy="118.52" r="1.65" fill="#ff00ff"/>
<text x="399.8" y="122.72" font-size="12" fill="#000">50 K</text>
<line x1="369.9" y1="131.35" x2="393.7" y2="131.35" stroke="#8f8f30" stroke-width="1"/>
<circle cx="381.8" cy="131.35" r="1.65" fill="#808000"/>
<text x="399.8" y="135.55" font-size="12" fill="#000">60 K</text>
<line x1="369.9" y1="144.18" x2="393.7" y2="144.18" stroke="#3535a5" stroke-width="1"/>
<circle cx="381.8" cy="144.18" r="1.65" fill="#000080"/>
<text x="399.8" y="148.38" font-size="12" fill="#000">70 K</text>
<line x1="369.9" y1="157.01" x2="393.7" y2="157.01" stroke="#952525" stroke-width="1"/>
<circle cx="381.8" cy="157.01" r="1.65" fill="#800000"/>
<text x="399.8" y="161.21" font-size="12" fill="#000">80 K</text>
<text x="442.6" y="12.8" font-size="17.5" font-weight="bold" fill="#000">c</text>
<path d="M643.8 43.1 H488.6 V157.4 H643.8" stroke="#111" stroke-width="1.3" fill="none"/>
<line x1="643.8" y1="43.1" x2="643.8" y2="157.4" stroke="#ff1f1f" stroke-width="1.3" />
<line x1="488.6" y1="145.97" x2="490.8" y2="145.97" stroke="#111" stroke-width="1" />
<line x1="488.6" y1="134.54" x2="490.8" y2="134.54" stroke="#111" stroke-width="1" />
<text x="482.6" y="138.84" font-size="12" text-anchor="end" fill="#000" >2</text>
<line x1="488.6" y1="123.11" x2="490.8" y2="123.11" stroke="#111" stroke-width="1" />
<line x1="488.6" y1="111.68" x2="490.8" y2="111.68" stroke="#111" stroke-width="1" />
<text x="482.6" y="115.98" font-size="12" text-anchor="end" fill="#000" >4</text>
<line x1="488.6" y1="100.25" x2="490.8" y2="100.25" stroke="#111" stroke-width="1" />
<line x1="488.6" y1="88.82" x2="490.8" y2="88.82" stroke="#111" stroke-width="1" />
<text x="482.6" y="93.12" font-size="12" text-anchor="end" fill="#000" >6</text>
<line x1="488.6" y1="77.39" x2="490.8" y2="77.39" stroke="#111" stroke-width="1" />
<line x1="488.6" y1="65.96" x2="490.8" y2="65.96" stroke="#111" stroke-width="1" />
<text x="482.6" y="70.26" font-size="12" text-anchor="end" fill="#000" >8</text>
<line x1="488.6" y1="54.53" x2="490.8" y2="54.53" stroke="#111" stroke-width="1" />
<text x="482.6" y="47.4" font-size="12" text-anchor="end" fill="#000" >10</text>
<text x="482.6" y="161.7" font-size="12" text-anchor="end" fill="#000" >0</text>
<line x1="643.8" y1="141.07" x2="641.6" y2="141.07" stroke="#ff1f1f" stroke-width="1" />
<line x1="643.8" y1="124.74" x2="641.6" y2="124.74" stroke="#ff1f1f" stroke-width="1" />
<line x1="643.8" y1="108.41" x2="641.6" y2="108.41" stroke="#ff1f1f" stroke-width="1" />
<line x1="643.8" y1="92.09" x2="641.6" y2="92.09" stroke="#ff1f1f" stroke-width="1" />
<line x1="643.8" y1="75.76" x2="641.6" y2="75.76" stroke="#ff1f1f" stroke-width="1" />
<line x1="643.8" y1="59.43" x2="641.6" y2="59.43" stroke="#ff1f1f" stroke-width="1" />
<text x="649.8" y="161.7" font-size="12" text-anchor="start" fill="#ff1f1f" >0</text>
<text x="649.8" y="129.04" font-size="12" text-anchor="start" fill="#ff1f1f" >10</text>
<text x="649.8" y="96.39" font-size="12" text-anchor="start" fill="#ff1f1f" >20</text>
<text x="649.8" y="63.73" font-size="12" text-anchor="start" fill="#ff1f1f" >30</text>
<line x1="498.95" y1="157.4" x2="498.95" y2="160.2" stroke="#111" stroke-width="1" />
<line x1="519.64" y1="157.4" x2="519.64" y2="159.2" stroke="#111" stroke-width="1" />
<line x1="540.33" y1="157.4" x2="540.33" y2="160.2" stroke="#111" stroke-width="1" />
<line x1="561.03" y1="157.4" x2="561.03" y2="159.2" stroke="#111" stroke-width="1" />
<line x1="581.72" y1="157.4" x2="581.72" y2="160.2" stroke="#111" stroke-width="1" />
<line x1="602.41" y1="157.4" x2="602.41" y2="159.2" stroke="#111" stroke-width="1" />
<line x1="623.11" y1="157.4" x2="623.11" y2="160.2" stroke="#111" stroke-width="1" />
<text x="498.95" y="175.3" font-size="12" text-anchor="middle" fill="#000" >40</text>
<text x="540.33" y="175.3" font-size="12" text-anchor="middle" fill="#000" >50</text>
<text x="581.72" y="175.3" font-size="12" text-anchor="middle" fill="#000" >60</text>
<text x="623.11" y="175.3" font-size="12" text-anchor="middle" fill="#000" >70</text>
<text x="561" y="190.2" font-size="12" text-anchor="middle" fill="#000"><tspan font-style="italic">T</tspan> (K)</text>
<text transform="translate(459.2,100) rotate(-90)" font-size="12" text-anchor="middle" fill="#000">|<tspan font-style="italic">J</tspan><tspan font-size="8.5" dy="3" font-style="italic">c</tspan><tspan dy="-3">| (A cm</tspan><tspan font-size="8.5" dy="-5.3">−2</tspan><tspan dy="5.3">)</tspan></text>
<text transform="translate(679.5,102.8) rotate(-90)" font-size="12" text-anchor="middle" fill="#ff1f1f"><tspan font-style="italic">M</tspan><tspan font-size="8.5" dy="3">R</tspan><tspan dy="-3"> (emu cm</tspan><tspan font-size="8.5" dy="-5.3">−3</tspan><tspan dy="5.3">)</tspan></text>
<polyline points="498.95,61.16 540.33,109.28 581.72,141.28 623.11,145.63" fill="none" stroke="#111" stroke-width="1.3" stroke-linejoin="round" />
<rect x="497.15" y="59.36" width="3.6" height="3.6" fill="#000"/>
<rect x="538.53" y="107.48" width="3.6" height="3.6" fill="#000"/>
<rect x="579.92" y="139.48" width="3.6" height="3.6" fill="#000"/>
<rect x="621.31" y="143.83" width="3.6" height="3.6" fill="#000"/>
<polyline points="498.95,59.1 540.33,69.23 581.72,88.82 623.11,138.13" fill="none" stroke="#ff1f1f" stroke-width="1.3" stroke-linejoin="round" />
<polygon points="496.55,57.3 501.35,57.3 498.95,61.5" fill="#ff1f1f"/>
<polygon points="537.93,67.43 542.73,67.43 540.33,71.63" fill="#ff1f1f"/>
<polygon points="579.32,87.02 584.12,87.02 581.72,91.22" fill="#ff1f1f"/>
<polygon points="620.71,136.33 625.51,136.33 623.11,140.53" fill="#ff1f1f"/>
<text x="-0.3" y="237.6" font-size="17.5" font-weight="bold" fill="#000">d</text>
<rect x="58.9" y="250.7" width="199.6" height="143.0" fill="none" stroke="#333" stroke-width="1.3"/>
<line x1="158.7" y1="250.7" x2="158.7" y2="393.7" stroke="#222" stroke-width="1.4" />
<line x1="58.9" y1="381.78" x2="61.3" y2="381.78" stroke="#333" stroke-width="1" />
<line x1="58.9" y1="369.87" x2="61.3" y2="369.87" stroke="#333" stroke-width="1" />
<line x1="58.9" y1="357.95" x2="61.3" y2="357.95" stroke="#333" stroke-width="1" />
<line x1="58.9" y1="346.03" x2="61.3" y2="346.03" stroke="#333" stroke-width="1" />
<line x1="58.9" y1="334.12" x2="61.3" y2="334.12" stroke="#333" stroke-width="1" />
<line x1="58.9" y1="322.2" x2="61.3" y2="322.2" stroke="#333" stroke-width="1" />
<line x1="58.9" y1="310.28" x2="61.3" y2="310.28" stroke="#333" stroke-width="1" />
<line x1="58.9" y1="298.37" x2="61.3" y2="298.37" stroke="#333" stroke-width="1" />
<line x1="58.9" y1="286.45" x2="61.3" y2="286.45" stroke="#333" stroke-width="1" />
<line x1="58.9" y1="274.53" x2="61.3" y2="274.53" stroke="#333" stroke-width="1" />
<line x1="58.9" y1="262.62" x2="61.3" y2="262.62" stroke="#333" stroke-width="1" />
<text x="53.6" y="398" font-size="12" text-anchor="end" fill="#000" >10</text>
<text x="53.6" y="374.17" font-size="12" text-anchor="end" fill="#000" >20</text>
<text x="53.6" y="350.33" font-size="12" text-anchor="end" fill="#000" >30</text>
<text x="53.6" y="326.5" font-size="12" text-anchor="end" fill="#000" >40</text>
<text x="53.6" y="302.67" font-size="12" text-anchor="end" fill="#000" >50</text>
<text x="53.6" y="278.83" font-size="12" text-anchor="end" fill="#000" >60</text>
<text x="53.6" y="255" font-size="12" text-anchor="end" fill="#000" >70</text>
<line x1="73.16" y1="393.7" x2="73.16" y2="391.5" stroke="#333" stroke-width="1" />
<line x1="87.41" y1="393.7" x2="87.41" y2="391.5" stroke="#333" stroke-width="1" />
<line x1="101.67" y1="393.7" x2="101.67" y2="391.5" stroke="#333" stroke-width="1" />
<line x1="115.93" y1="393.7" x2="115.93" y2="391.5" stroke="#333" stroke-width="1" />
<line x1="130.19" y1="393.7" x2="130.19" y2="391.5" stroke="#333" stroke-width="1" />
<line x1="144.44" y1="393.7" x2="144.44" y2="391.5" stroke="#333" stroke-width="1" />
<line x1="172.96" y1="393.7" x2="172.96" y2="391.5" stroke="#333" stroke-width="1" />
<line x1="187.21" y1="393.7" x2="187.21" y2="391.5" stroke="#333" stroke-width="1" />
<line x1="201.47" y1="393.7" x2="201.47" y2="391.5" stroke="#333" stroke-width="1" />
<line x1="215.73" y1="393.7" x2="215.73" y2="391.5" stroke="#333" stroke-width="1" />
<line x1="229.99" y1="393.7" x2="229.99" y2="391.5" stroke="#333" stroke-width="1" />
<line x1="244.24" y1="393.7" x2="244.24" y2="391.5" stroke="#333" stroke-width="1" />
<text x="73.16" y="408.8" font-size="12" text-anchor="middle" fill="#000" >−15</text>
<text x="101.67" y="408.8" font-size="12" text-anchor="middle" fill="#000" >−10</text>
<text x="130.19" y="408.8" font-size="12" text-anchor="middle" fill="#000" >−5</text>
<text x="158.7" y="408.8" font-size="12" text-anchor="middle" fill="#000" >0</text>
<text x="187.21" y="408.8" font-size="12" text-anchor="middle" fill="#000" >5</text>
<text x="215.73" y="408.8" font-size="12" text-anchor="middle" fill="#000" >10</text>
<text x="244.24" y="408.8" font-size="12" text-anchor="middle" fill="#000" >15</text>
<g clip-path="url(#clipd)">
<path d="M152.31 250.7 C152.06 253.88 152.87 268.18 150.43 274.53 C147.99 280.89 139.42 292.01 134.01 298.37 C128.59 304.72 115.26 315.84 109.83 322.2 C104.4 328.56 97.11 339.68 93.29 346.03 C89.46 352.39 83.9 363.51 81.14 369.87 C78.38 376.22 73.73 390.52 72.59 393.7" fill="none" stroke="#333" stroke-width="1.05" stroke-dasharray="4.6,4.2"/>
<rect x="150.71" y="249.1" width="3.2" height="3.2" fill="#000"/>
<rect x="148.83" y="272.93" width="3.2" height="3.2" fill="#000"/>
<rect x="132.41" y="296.77" width="3.2" height="3.2" fill="#000"/>
<rect x="108.23" y="320.6" width="3.2" height="3.2" fill="#000"/>
<rect x="91.69" y="344.43" width="3.2" height="3.2" fill="#000"/>
<rect x="79.54" y="368.27" width="3.2" height="3.2" fill="#000"/>
<rect x="70.99" y="392.1" width="3.2" height="3.2" fill="#000"/>
<path d="M166.91 274.53 C169 277.71 177.36 292.01 182.59 298.37 C187.83 304.72 200.8 315.84 206.2 322.2 C211.61 328.56 219.74 339.68 223.14 346.03 C226.54 352.39 229.49 363.51 231.7 369.87 C233.9 376.22 238.62 390.52 239.68 393.7" fill="none" stroke="#333" stroke-width="1.05" stroke-dasharray="4.6,4.2"/>
<rect x="165.31" y="272.93" width="3.2" height="3.2" fill="#000"/>
<rect x="180.99" y="296.77" width="3.2" height="3.2" fill="#000"/>
<rect x="204.6" y="320.6" width="3.2" height="3.2" fill="#000"/>
<rect x="221.54" y="344.43" width="3.2" height="3.2" fill="#000"/>
<rect x="230.1" y="368.27" width="3.2" height="3.2" fill="#000"/>
<rect x="238.08" y="392.1" width="3.2" height="3.2" fill="#000"/>
</g>
<text x="74.4" y="296.6" font-size="12" fill="#000"><tspan font-style="italic">M</tspan><tspan font-style="italic" font-size="7.5" dy="3">z</tspan><tspan dy="-3">&lt; 0</tspan></text>
<text x="112.8" y="358.6" font-size="12" fill="#000"><tspan font-style="italic">M</tspan><tspan font-style="italic" font-size="7.5" dy="3">z</tspan><tspan dy="-3">&gt; 0</tspan></text>
<text x="170.2" y="358.6" font-size="12" fill="#000"><tspan font-style="italic">M</tspan><tspan font-style="italic" font-size="7.5" dy="3">z</tspan><tspan dy="-3">&lt; 0</tspan></text>
<text x="214.3" y="291.2" font-size="12" fill="#000"><tspan font-style="italic">M</tspan><tspan font-style="italic" font-size="7.5" dy="3">z</tspan><tspan dy="-3">&gt; 0</tspan></text>
<text x="175" y="243.9" font-size="12" fill="#000"><tspan font-style="italic">H</tspan><tspan font-style="italic" font-size="8.5" dy="3">y</tspan><tspan dy="-3"> =</tspan><tspan dx="6.5">+500 Oe</tspan></text>
<text x="161.4" y="427.8" font-size="12" text-anchor="middle" fill="#000"><tspan font-style="italic">J</tspan><tspan font-style="italic" font-size="8.5" dy="3">c</tspan><tspan dy="-3"> (A cm</tspan><tspan font-size="8.5" dy="-5.3">−2</tspan><tspan dy="5.3">)</tspan></text>
<text x="261.5" y="399" font-size="12" fill="#000">(<tspan font-size="15.5" dy="1.9" dx="-0.4">×</tspan><tspan dy="-1.9" dx="-0.6">10</tspan><tspan font-size="8.5" dy="-5.3">5</tspan><tspan dy="5.3">)</tspan></text>
<text transform="translate(31.1,322) rotate(-90)" font-size="12" text-anchor="middle" fill="#000"><tspan font-style="italic">T</tspan> (K)</text>
<text x="315" y="237.6" font-size="17.5" font-weight="bold" fill="#000">e</text>
<rect x="357.5" y="251.5" width="198.79999999999995" height="142.2" fill="none" stroke="#333" stroke-width="1.3"/>
<line x1="456.9" y1="251.5" x2="456.9" y2="393.7" stroke="#555" stroke-width="1.6" />
<line x1="357.5" y1="322.6" x2="556.3" y2="322.6" stroke="#555" stroke-width="1.6" />
<line x1="357.5" y1="375.93" x2="359.9" y2="375.93" stroke="#333" stroke-width="1" />
<line x1="357.5" y1="358.15" x2="359.9" y2="358.15" stroke="#333" stroke-width="1" />
<line x1="357.5" y1="340.38" x2="359.9" y2="340.38" stroke="#333" stroke-width="1" />
<line x1="357.5" y1="304.82" x2="359.9" y2="304.82" stroke="#333" stroke-width="1" />
<line x1="357.5" y1="287.05" x2="359.9" y2="287.05" stroke="#333" stroke-width="1" />
<line x1="357.5" y1="269.27" x2="359.9" y2="269.27" stroke="#333" stroke-width="1" />
<text x="351.6" y="398" font-size="12" text-anchor="end" fill="#000" >−2</text>
<text x="351.6" y="362.45" font-size="12" text-anchor="end" fill="#000" >−1</text>
<text x="351.6" y="326.9" font-size="12" text-anchor="end" fill="#000" >0</text>
<text x="351.6" y="291.35" font-size="12" text-anchor="end" fill="#000" >1</text>
<text x="351.6" y="255.8" font-size="12" text-anchor="end" fill="#000" >2</text>
<line x1="374.07" y1="393.7" x2="374.07" y2="391.5" stroke="#333" stroke-width="1" />
<line x1="390.63" y1="393.7" x2="390.63" y2="391.5" stroke="#333" stroke-width="1" />
<line x1="407.2" y1="393.7" x2="407.2" y2="391.5" stroke="#333" stroke-width="1" />
<line x1="423.77" y1="393.7" x2="423.77" y2="391.5" stroke="#333" stroke-width="1" />
<line x1="440.33" y1="393.7" x2="440.33" y2="391.5" stroke="#333" stroke-width="1" />
<line x1="473.47" y1="393.7" x2="473.47" y2="391.5" stroke="#333" stroke-width="1" />
<line x1="490.03" y1="393.7" x2="490.03" y2="391.5" stroke="#333" stroke-width="1" />
<line x1="506.6" y1="393.7" x2="506.6" y2="391.5" stroke="#333" stroke-width="1" />
<line x1="523.17" y1="393.7" x2="523.17" y2="391.5" stroke="#333" stroke-width="1" />
<line x1="539.73" y1="393.7" x2="539.73" y2="391.5" stroke="#333" stroke-width="1" />
<text x="357.5" y="408.6" font-size="12" text-anchor="middle" fill="#000" >−15</text>
<text x="390.63" y="408.6" font-size="12" text-anchor="middle" fill="#000" >−10</text>
<text x="423.77" y="408.6" font-size="12" text-anchor="middle" fill="#000" >−5</text>
<text x="456.9" y="408.6" font-size="12" text-anchor="middle" fill="#000" >0</text>
<text x="490.03" y="408.6" font-size="12" text-anchor="middle" fill="#000" >5</text>
<text x="523.17" y="408.6" font-size="12" text-anchor="middle" fill="#000" >10</text>
<text x="556.3" y="408.6" font-size="12" text-anchor="middle" fill="#000" >15</text>
<line x1="359.5" y1="311.94" x2="556.3" y2="311.94" stroke="#ff3a3a" stroke-width="1.1" stroke-dasharray="3.3,3.2"/>
<line x1="359.5" y1="333.26" x2="556.3" y2="333.26" stroke="#ff3a3a" stroke-width="1.1" stroke-dasharray="3.3,3.2"/>
<g clip-path="url(#clipe)">
<path d="M376.72 251.5 L386.66 269.27 L395.27 287.05 L400.24 297.71 L400.24 304.82 L390.3 311.94" fill="none" stroke="#333" stroke-width="1.05" stroke-dasharray="4.6,4.2"/>
<rect x="385.06" y="267.67" width="3.2" height="3.2" fill="#000"/>
<rect x="393.67" y="285.45" width="3.2" height="3.2" fill="#000"/>
<rect x="398.64" y="296.11" width="3.2" height="3.2" fill="#000"/>
<rect x="398.64" y="303.22" width="3.2" height="3.2" fill="#000"/>
<rect x="388.7" y="310.33" width="3.2" height="3.2" fill="#000"/>
<path d="M528.47 251.5 L522.5 269.27 L519.19 287.05 L513.23 297.71 L511.9 304.82 L522.5 311.94" fill="none" stroke="#333" stroke-width="1.05" stroke-dasharray="4.6,4.2"/>
<rect x="520.9" y="267.67" width="3.2" height="3.2" fill="#000"/>
<rect x="517.59" y="285.45" width="3.2" height="3.2" fill="#000"/>
<rect x="511.63" y="296.11" width="3.2" height="3.2" fill="#000"/>
<rect x="510.3" y="303.22" width="3.2" height="3.2" fill="#000"/>
<rect x="520.9" y="310.33" width="3.2" height="3.2" fill="#000"/>
<path d="M390.3 333.26 L400.24 340.38 L400.24 347.49 L395.27 358.15 L386.66 375.93 L376.72 393.7" fill="none" stroke="#333" stroke-width="1.05" stroke-dasharray="4.6,4.2"/>
<rect x="388.7" y="331.66" width="3.2" height="3.2" fill="#000"/>
<rect x="398.64" y="338.77" width="3.2" height="3.2" fill="#000"/>
<rect x="398.64" y="345.88" width="3.2" height="3.2" fill="#000"/>
<rect x="393.67" y="356.55" width="3.2" height="3.2" fill="#000"/>
<rect x="385.06" y="374.32" width="3.2" height="3.2" fill="#000"/>
<path d="M522.5 333.26 L513.23 340.38 L514.55 347.49 L519.19 358.15 L522.5 375.93 L528.47 393.7" fill="none" stroke="#333" stroke-width="1.05" stroke-dasharray="4.6,4.2"/>
<rect x="520.9" y="331.66" width="3.2" height="3.2" fill="#000"/>
<rect x="511.63" y="338.77" width="3.2" height="3.2" fill="#000"/>
<rect x="512.95" y="345.88" width="3.2" height="3.2" fill="#000"/>
<rect x="517.59" y="356.55" width="3.2" height="3.2" fill="#000"/>
<rect x="520.9" y="374.32" width="3.2" height="3.2" fill="#000"/>
</g>
<text x="364" y="299.4" font-size="12" fill="#000"><tspan font-style="italic">M</tspan><tspan font-style="italic" font-size="7.5" dy="3">z</tspan><tspan dy="-3">&lt; 0</tspan></text>
<text x="412.2" y="297.6" font-size="12" fill="#000"><tspan font-style="italic">M</tspan><tspan font-style="italic" font-size="7.5" dy="3">z</tspan><tspan dy="-3">&gt; 0</tspan></text>
<text x="472" y="298" font-size="12" fill="#000"><tspan font-style="italic">M</tspan><tspan font-style="italic" font-size="7.5" dy="3">z</tspan><tspan dy="-3">&lt; 0</tspan></text>
<text x="523" y="296" font-size="12" fill="#000"><tspan font-style="italic">M</tspan><tspan font-style="italic" font-size="7.5" dy="3">z</tspan><tspan dy="-3">&gt; 0</tspan></text>
<text x="364" y="353.2" font-size="12" fill="#000"><tspan font-style="italic">M</tspan><tspan font-style="italic" font-size="7.5" dy="3">z</tspan><tspan dy="-3">&gt; 0</tspan></text>
<text x="412.2" y="351.5" font-size="12" fill="#000"><tspan font-style="italic">M</tspan><tspan font-style="italic" font-size="7.5" dy="3">z</tspan><tspan dy="-3">&lt; 0</tspan></text>
<text x="476" y="350.7" font-size="12" fill="#000"><tspan font-style="italic">M</tspan><tspan font-style="italic" font-size="7.5" dy="3">z</tspan><tspan dy="-3">&gt; 0</tspan></text>
<text x="523" y="350.7" font-size="12" fill="#000"><tspan font-style="italic">M</tspan><tspan font-style="italic" font-size="7.5" dy="3">z</tspan><tspan dy="-3">&lt; 0</tspan></text>
<text x="502.2" y="246.2" font-size="12" fill="#000"><tspan font-style="italic">T</tspan><tspan dx="4.6">=</tspan><tspan dx="5.6">40</tspan><tspan dx="0.4"> K</tspan></text>
<text x="457.6" y="427.9" font-size="12" text-anchor="middle" fill="#000"><tspan font-style="italic">J</tspan><tspan font-style="italic" font-size="8.5" dy="3">c</tspan><tspan dy="-3"> (A cm</tspan><tspan font-size="8.5" dy="-5.3">−2</tspan><tspan dy="5.3">)</tspan></text>
<text x="566" y="398.6" font-size="12" fill="#000">(<tspan font-size="15.5" dy="1.9" dx="-0.4">×</tspan><tspan dy="-1.9" dx="-0.6">10</tspan><tspan font-size="8.5" dy="-5.3">5</tspan><tspan dy="5.3">)</tspan></text>
<text transform="translate(326.4,322.6) rotate(-90)" font-size="12" text-anchor="middle" fill="#000"><tspan font-style="italic">H</tspan><tspan font-style="italic" font-size="8.5" dy="3">y</tspan><tspan dy="-3"> (kOe)</tspan></text>
</svg>
</body></html>
